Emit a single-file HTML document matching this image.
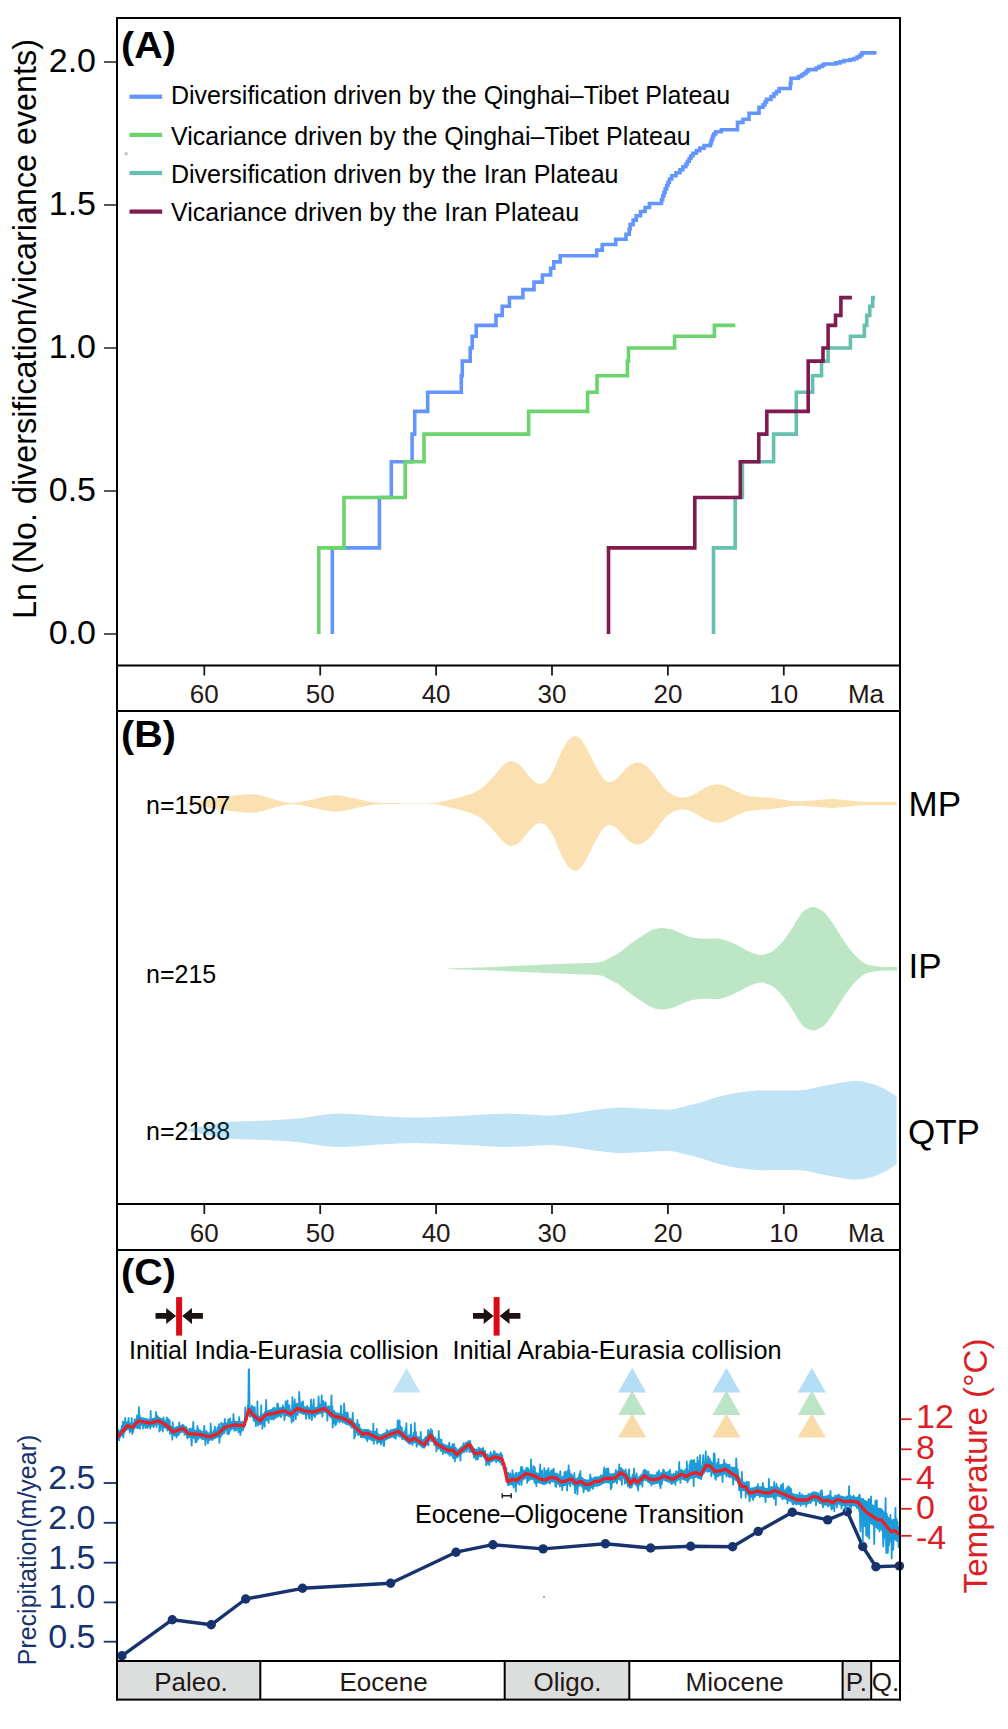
<!DOCTYPE html><html><head><meta charset="utf-8"><style>html,body{margin:0;padding:0;background:#fff;}svg{display:block}text{font-family:"Liberation Sans", sans-serif;}</style></head><body>
<svg width="1008" height="1729" viewBox="0 0 1008 1729">
<rect width="1008" height="1729" fill="#fff"/>
<g fill="none" stroke-width="3.6" stroke-linejoin="miter" stroke-linecap="butt">
<path d="M332.3 634.0 L332.3 634.0 L332.3 547.9 L379.4 547.9 L379.4 497.5 L391.3 497.5 L391.3 461.8 L412.1 461.8 L412.1 434.1 L414.7 434.1 L414.7 411.4 L427.7 411.4 L427.7 392.3 L461.3 392.3 L461.3 375.7 L462.3 375.7 L462.3 361.1 L470.2 361.1 L470.2 348.0 L472.2 348.0 L472.2 336.2 L476.2 336.2 L476.2 325.4 L496.0 325.4 L496.0 315.4 L502.2 315.4 L502.2 306.2 L509.4 306.2 L509.4 297.6 L522.9 297.6 L522.9 289.6 L534.0 289.6 L534.0 282.1 L542.4 282.1 L542.4 275.0 L550.6 275.0 L550.6 268.3 L553.8 268.3 L553.8 261.9 L560.2 261.9 L560.2 255.8 L596.7 255.8 L596.7 250.1 L602.2 250.1 L602.2 244.5 L615.7 244.5 L615.7 239.3 L626.0 239.3 L626.0 234.2 L629.2 234.2 L629.2 229.3 L630.1 229.3 L630.1 224.6 L633.1 224.6 L633.1 220.1 L636.2 220.1 L636.2 215.8 L640.5 215.8 L640.5 211.5 L645.1 211.5 L645.1 207.5 L649.4 207.5 L649.4 203.5 L661.5 203.5 L661.5 199.7 L662.7 199.7 L662.7 196.0 L663.9 196.0 L663.9 192.4 L665.2 192.4 L665.2 188.9 L666.6 188.9 L666.6 185.5 L668.0 185.5 L668.0 182.2 L669.4 182.2 L669.4 179.0 L671.7 179.0 L671.7 175.8 L676.0 175.8 L676.0 172.7 L680.0 172.7 L680.0 169.8 L682.9 169.8 L682.9 166.8 L685.9 166.8 L685.9 164.0 L687.5 164.0 L687.5 161.2 L689.2 161.2 L689.2 158.5 L690.9 158.5 L690.9 155.8 L693.0 155.8 L693.0 153.2 L696.4 153.2 L696.4 150.6 L699.8 150.6 L699.8 148.1 L704.1 148.1 L704.1 145.6 L710.4 145.6 L710.4 143.2 L711.2 143.2 L711.2 140.9 L712.0 140.9 L712.0 138.5 L712.8 138.5 L712.8 136.3 L713.7 136.3 L713.7 134.0 L715.6 134.0 L715.6 131.8 L721.3 131.8 L721.3 129.7 L737.5 129.7 L737.5 129.7 L737.5 122.4 L743.0 122.4 L743.0 119.2 L749.0 119.2 L749.0 113.3 L759.0 113.3 L759.0 107.3 L763.0 107.3 L763.0 104.9 L765.0 104.9 L765.0 102.0 L766.5 102.0 L766.5 99.4 L771.0 99.4 L771.0 96.5 L774.0 96.5 L774.0 93.8 L776.5 93.8 L776.5 91.5 L779.2 91.5 L779.2 88.5 L790.3 88.5 L790.3 83.5 L791.0 83.5 L791.0 78.3 L798.5 78.3 L798.5 76.5 L801.4 76.5 L801.4 75.0 L803.5 75.0 L803.5 73.5 L806.0 73.5 L806.0 71.5 L808.0 71.5 L808.0 69.6 L816.0 69.6 L816.0 68.0 L819.0 68.0 L819.0 66.5 L822.0 66.5 L822.0 65.2 L824.0 65.2 L824.0 64.0 L836.0 64.0 L836.0 62.9 L840.0 62.9 L840.0 61.8 L844.0 61.8 L844.0 60.5 L850.0 60.5 L850.0 59.6 L854.0 59.6 L854.0 58.5 L857.0 58.5 L857.0 57.0 L860.0 57.0 L860.0 55.0 L862.0 55.0 L862.0 52.9 L876.5 52.9" stroke="#6495ff"/>
<path d="M318.8 634.0 L318.8 634.0 L318.8 547.9 L344.0 547.9 L344.0 497.5 L405.2 497.5 L405.2 461.8 L424.0 461.8 L424.0 434.1 L528.6 434.1 L528.6 411.4 L587.6 411.4 L587.6 392.3 L597.0 392.3 L597.0 375.7 L627.4 375.7 L627.4 361.1 L628.5 361.1 L628.5 348.0 L674.6 348.0 L674.6 336.2 L714.4 336.2 L714.4 325.4 L735.3 325.4" stroke="#6cd46c"/>
<path d="M713.5 634.0 L713.5 634.0 L713.5 547.9 L735.2 547.9 L735.2 497.5 L742.4 497.5 L742.4 461.8 L773.6 461.8 L773.6 434.1 L796.3 434.1 L796.3 411.4 L796.3 411.4 L796.3 392.3 L812.6 392.3 L812.6 375.7 L821.5 375.7 L821.5 361.1 L828.1 361.1 L828.1 348.0 L850.4 348.0 L850.4 336.2 L864.4 336.2 L864.4 325.4 L866.8 325.4 L866.8 315.4 L869.8 315.4 L869.8 306.2 L872.7 306.2 L872.7 297.6 L875.1 297.6" stroke="#66c0b0"/>
<path d="M608.5 634.0 L608.5 634.0 L608.5 547.9 L694.8 547.9 L694.8 497.5 L740.3 497.5 L740.3 461.8 L758.8 461.8 L758.8 434.1 L766.8 434.1 L766.8 411.4 L808.2 411.4 L808.2 392.3 L808.2 392.3 L808.2 375.7 L808.2 375.7 L808.2 361.1 L823.0 361.1 L823.0 348.0 L828.1 348.0 L828.1 336.2 L828.1 336.2 L828.1 325.4 L835.5 325.4 L835.5 315.4 L840.9 315.4 L840.9 306.2 L840.9 306.2 L840.9 297.6 L851.9 297.6" stroke="#801b50"/>
</g>
<rect x="129.5" y="94.6" width="32.7" height="4.2" fill="#6495ff"/>
<text x="171" y="104.0" font-size="25">Diversification driven by the Qinghai–Tibet Plateau</text>
<rect x="129.5" y="132.8" width="32.7" height="4.2" fill="#6cd46c"/>
<text x="171" y="144.6" font-size="25">Vicariance driven by the Qinghai–Tibet Plateau</text>
<rect x="129.5" y="170.9" width="32.7" height="4.2" fill="#66c0b0"/>
<text x="171" y="183.2" font-size="25">Diversification driven by the Iran Plateau</text>
<rect x="129.5" y="209.5" width="32.7" height="4.2" fill="#801b50"/>
<text x="171" y="221.1" font-size="25">Vicariance driven by the Iran Plateau</text>
<circle cx="126.2" cy="153.8" r="1.7" fill="#c4c4c4"/>
<text x="121" y="57.5" font-size="37.5" font-weight="bold" textLength="54.8" lengthAdjust="spacingAndGlyphs">(A)</text>
<line x1="104" x2="117" y1="62.0" y2="62.0" stroke="#3a2a28" stroke-width="1.6"/>
<text x="96" y="72.3" font-size="34" text-anchor="end">2.0</text>
<line x1="104" x2="117" y1="205.0" y2="205.0" stroke="#3a2a28" stroke-width="1.6"/>
<text x="96" y="215.3" font-size="34" text-anchor="end">1.5</text>
<line x1="104" x2="117" y1="348.0" y2="348.0" stroke="#3a2a28" stroke-width="1.6"/>
<text x="96" y="358.3" font-size="34" text-anchor="end">1.0</text>
<line x1="104" x2="117" y1="491.0" y2="491.0" stroke="#3a2a28" stroke-width="1.6"/>
<text x="96" y="501.3" font-size="34" text-anchor="end">0.5</text>
<line x1="104" x2="117" y1="634.0" y2="634.0" stroke="#3a2a28" stroke-width="1.6"/>
<text x="96" y="644.3" font-size="34" text-anchor="end">0.0</text>
<text transform="translate(35.6,329) rotate(-90)" font-size="32.3" text-anchor="middle">Ln (No. diversification/vicariance events)</text>
<line x1="204.3" x2="204.3" y1="665.5" y2="675.5" stroke="#231815" stroke-width="1.8"/>
<text x="204.3" y="703.3" font-size="26" text-anchor="middle" fill="#231815">60</text>
<line x1="320.2" x2="320.2" y1="665.5" y2="675.5" stroke="#231815" stroke-width="1.8"/>
<text x="320.2" y="703.3" font-size="26" text-anchor="middle" fill="#231815">50</text>
<line x1="436.1" x2="436.1" y1="665.5" y2="675.5" stroke="#231815" stroke-width="1.8"/>
<text x="436.1" y="703.3" font-size="26" text-anchor="middle" fill="#231815">40</text>
<line x1="552.0" x2="552.0" y1="665.5" y2="675.5" stroke="#231815" stroke-width="1.8"/>
<text x="552.0" y="703.3" font-size="26" text-anchor="middle" fill="#231815">30</text>
<line x1="667.9" x2="667.9" y1="665.5" y2="675.5" stroke="#231815" stroke-width="1.8"/>
<text x="667.9" y="703.3" font-size="26" text-anchor="middle" fill="#231815">20</text>
<line x1="783.8" x2="783.8" y1="665.5" y2="675.5" stroke="#231815" stroke-width="1.8"/>
<text x="783.8" y="703.3" font-size="26" text-anchor="middle" fill="#231815">10</text>
<text x="866" y="703.3" font-size="26" text-anchor="middle" fill="#231815">Ma</text>
<text x="121" y="747" font-size="37.5" font-weight="bold" textLength="54.8" lengthAdjust="spacingAndGlyphs">(B)</text>
<polygon points="185.6,803.2 186.6,803.2 187.6,803.1 188.6,803.0 189.6,802.9 190.6,802.8 191.6,802.7 192.6,802.6 193.6,802.5 194.6,802.4 195.6,802.2 196.6,802.1 197.6,801.9 198.6,801.7 199.6,801.5 200.6,801.3 201.6,801.0 202.6,800.8 203.6,800.6 204.6,800.4 205.6,800.2 206.6,799.9 207.6,799.7 208.6,799.5 209.6,799.2 210.6,799.0 211.6,798.8 212.6,798.5 213.6,798.3 214.6,798.1 215.6,798.0 216.6,797.8 217.6,797.7 218.6,797.6 219.6,797.5 220.6,797.4 221.6,797.3 222.6,797.2 223.6,797.1 224.6,796.9 225.6,796.8 226.6,796.7 227.6,796.6 228.6,796.4 229.6,796.3 230.6,796.1 231.6,796.0 232.6,795.9 233.6,795.7 234.6,795.6 235.6,795.4 236.6,795.3 237.6,795.2 238.6,795.1 239.6,795.0 240.6,794.9 241.6,794.8 242.6,794.7 243.6,794.6 244.6,794.5 245.6,794.5 246.6,794.4 247.6,794.3 248.6,794.3 249.6,794.3 250.6,794.3 251.6,794.3 252.6,794.3 253.6,794.3 254.6,794.4 255.6,794.5 256.6,794.6 257.6,794.8 258.6,795.0 259.6,795.2 260.6,795.4 261.6,795.7 262.6,795.9 263.6,796.2 264.6,796.5 265.6,796.8 266.6,797.0 267.6,797.3 268.6,797.6 269.6,797.9 270.6,798.2 271.6,798.5 272.6,798.8 273.6,799.1 274.6,799.5 275.6,799.8 276.6,800.1 277.6,800.4 278.6,800.6 279.6,800.8 280.6,801.1 281.6,801.3 282.6,801.6 283.6,801.8 284.6,802.0 285.6,802.2 286.6,802.4 287.6,802.6 288.6,802.7 289.6,802.8 290.6,802.9 291.6,802.9 292.6,802.9 293.6,802.8 294.6,802.8 295.6,802.7 296.6,802.5 297.6,802.4 298.6,802.3 299.6,802.1 300.6,801.9 301.6,801.7 302.6,801.5 303.6,801.3 304.6,801.1 305.6,800.9 306.6,800.7 307.6,800.4 308.6,800.2 309.6,800.0 310.6,799.8 311.6,799.6 312.6,799.4 313.6,799.2 314.6,798.9 315.6,798.7 316.6,798.4 317.6,798.2 318.6,798.0 319.6,797.7 320.6,797.5 321.6,797.3 322.6,797.1 323.6,796.9 324.6,796.7 325.6,796.5 326.6,796.3 327.6,796.2 328.6,796.1 329.6,795.9 330.6,795.8 331.6,795.7 332.6,795.6 333.6,795.5 334.6,795.5 335.6,795.5 336.6,795.4 337.6,795.5 338.6,795.5 339.6,795.6 340.6,795.7 341.6,795.8 342.6,796.0 343.6,796.1 344.6,796.3 345.6,796.5 346.6,796.7 347.6,797.0 348.6,797.2 349.6,797.4 350.6,797.7 351.6,797.9 352.6,798.1 353.6,798.4 354.6,798.6 355.6,798.8 356.6,799.0 357.6,799.2 358.6,799.4 359.6,799.7 360.6,799.9 361.6,800.1 362.6,800.4 363.6,800.6 364.6,800.8 365.6,801.1 366.6,801.3 367.6,801.5 368.6,801.7 369.6,801.8 370.6,802.0 371.6,802.1 372.6,802.2 373.6,802.3 374.6,802.4 375.6,802.5 376.6,802.5 377.6,802.6 378.6,802.6 379.6,802.7 380.6,802.7 381.6,802.8 382.6,802.8 383.6,802.9 384.6,802.9 385.6,802.9 386.6,803.0 387.6,803.0 388.6,803.0 389.6,803.0 390.6,803.1 391.6,803.1 392.6,803.1 393.6,803.1 394.6,803.1 395.6,803.1 396.6,803.1 397.6,803.1 398.6,803.1 399.6,803.1 400.6,803.2 401.6,803.2 402.6,803.2 403.6,803.2 404.6,803.2 405.6,803.2 406.6,803.2 407.6,803.2 408.6,803.2 409.6,803.2 410.6,803.2 411.6,803.2 412.6,803.2 413.6,803.2 414.6,803.2 415.6,803.2 416.6,803.2 417.6,803.2 418.6,803.2 419.6,803.2 420.6,803.2 421.6,803.2 422.6,803.2 423.6,803.2 424.6,803.2 425.6,803.2 426.6,803.2 427.6,803.2 428.6,803.2 429.6,803.1 430.6,803.1 431.6,803.1 432.6,803.1 433.6,803.0 434.6,802.9 435.6,802.8 436.6,802.7 437.6,802.5 438.6,802.3 439.6,802.2 440.6,802.0 441.6,801.8 442.6,801.5 443.6,801.3 444.6,801.0 445.6,800.7 446.6,800.5 447.6,800.2 448.6,799.9 449.6,799.6 450.6,799.4 451.6,799.2 452.6,798.9 453.6,798.7 454.6,798.5 455.6,798.2 456.6,798.0 457.6,797.8 458.6,797.5 459.6,797.3 460.6,797.0 461.6,796.7 462.6,796.4 463.6,796.1 464.6,795.8 465.6,795.5 466.6,795.2 467.6,794.9 468.6,794.6 469.6,794.2 470.6,793.9 471.6,793.5 472.6,793.1 473.6,792.6 474.6,792.2 475.6,791.8 476.6,791.3 477.6,790.8 478.6,790.3 479.6,789.7 480.6,789.0 481.6,788.3 482.6,787.5 483.6,786.6 484.6,785.7 485.6,784.8 486.6,783.8 487.6,782.8 488.6,781.7 489.6,780.7 490.6,779.6 491.6,778.6 492.6,777.4 493.6,776.3 494.6,775.2 495.6,774.0 496.6,772.8 497.6,771.5 498.6,770.3 499.6,769.2 500.6,768.1 501.6,767.0 502.6,766.0 503.6,765.1 504.6,764.2 505.6,763.5 506.6,762.8 507.6,762.2 508.6,761.7 509.6,761.3 510.6,761.1 511.6,761.1 512.6,761.1 513.6,761.4 514.6,761.8 515.6,762.2 516.6,762.8 517.6,763.4 518.6,764.1 519.6,764.9 520.6,765.8 521.6,766.8 522.6,768.0 523.6,769.2 524.6,770.4 525.6,771.6 526.6,772.9 527.6,774.2 528.6,775.4 529.6,776.6 530.6,777.8 531.6,779.0 532.6,780.1 533.6,781.1 534.6,781.9 535.6,782.5 536.6,783.0 537.6,783.3 538.6,783.6 539.6,783.8 540.6,783.9 541.6,783.8 542.6,783.5 543.6,783.2 544.6,782.7 545.6,782.1 546.6,781.1 547.6,779.8 548.6,778.4 549.6,776.9 550.6,775.4 551.6,773.7 552.6,771.9 553.6,769.9 554.6,767.9 555.6,765.7 556.6,763.3 557.6,760.8 558.6,758.3 559.6,756.0 560.6,753.8 561.6,751.7 562.6,749.6 563.6,747.7 564.6,745.9 565.6,744.2 566.6,742.6 567.6,741.1 568.6,739.9 569.6,738.9 570.6,738.1 571.6,737.5 572.6,736.9 573.6,736.4 574.6,736.1 575.6,736.1 576.6,736.3 577.6,736.8 578.6,737.4 579.6,738.1 580.6,739.1 581.6,740.3 582.6,741.8 583.6,743.4 584.6,745.1 585.6,746.7 586.6,748.5 587.6,750.4 588.6,752.3 589.6,754.2 590.6,756.1 591.6,758.2 592.6,760.2 593.6,762.2 594.6,764.1 595.6,765.9 596.6,767.8 597.6,769.6 598.6,771.3 599.6,772.9 600.6,774.6 601.6,776.2 602.6,777.7 603.6,779.0 604.6,779.8 605.6,780.6 606.6,781.2 607.6,781.7 608.6,782.0 609.6,782.1 610.6,782.0 611.6,781.7 612.6,781.3 613.6,780.8 614.6,780.2 615.6,779.6 616.6,778.8 617.6,777.9 618.6,776.9 619.6,775.8 620.6,774.7 621.6,773.6 622.6,772.5 623.6,771.4 624.6,770.2 625.6,769.0 626.6,767.9 627.6,767.0 628.6,766.3 629.6,765.6 630.6,764.9 631.6,764.3 632.6,763.8 633.6,763.3 634.6,762.9 635.6,762.6 636.6,762.5 637.6,762.4 638.6,762.5 639.6,762.7 640.6,763.0 641.6,763.4 642.6,763.8 643.6,764.4 644.6,764.9 645.6,765.5 646.6,766.2 647.6,767.1 648.6,768.0 649.6,769.1 650.6,770.2 651.6,771.4 652.6,772.6 653.6,773.8 654.6,775.2 655.6,776.6 656.6,777.9 657.6,779.3 658.6,780.7 659.6,782.2 660.6,783.6 661.6,785.1 662.6,786.4 663.6,787.6 664.6,788.7 665.6,789.7 666.6,790.7 667.6,791.6 668.6,792.4 669.6,793.1 670.6,793.7 671.6,794.3 672.6,794.9 673.6,795.4 674.6,795.9 675.6,796.2 676.6,796.6 677.6,796.9 678.6,797.2 679.6,797.5 680.6,797.6 681.6,797.7 682.6,797.7 683.6,797.6 684.6,797.5 685.6,797.3 686.6,797.1 687.6,796.9 688.6,796.6 689.6,796.3 690.6,795.9 691.6,795.5 692.6,795.1 693.6,794.7 694.6,794.1 695.6,793.5 696.6,792.9 697.6,792.3 698.6,791.6 699.6,791.0 700.6,790.4 701.6,789.7 702.6,789.1 703.6,788.5 704.6,787.9 705.6,787.4 706.6,786.9 707.6,786.5 708.6,786.0 709.6,785.7 710.6,785.4 711.6,785.1 712.6,784.9 713.6,784.7 714.6,784.5 715.6,784.4 716.6,784.3 717.6,784.3 718.6,784.4 719.6,784.5 720.6,784.6 721.6,784.8 722.6,785.1 723.6,785.3 724.6,785.7 725.6,786.1 726.6,786.5 727.6,787.0 728.6,787.5 729.6,788.0 730.6,788.5 731.6,789.0 732.6,789.4 733.6,789.9 734.6,790.4 735.6,790.9 736.6,791.4 737.6,791.9 738.6,792.3 739.6,792.8 740.6,793.3 741.6,793.7 742.6,794.2 743.6,794.6 744.6,795.0 745.6,795.3 746.6,795.6 747.6,795.8 748.6,795.9 749.6,796.1 750.6,796.2 751.6,796.4 752.6,796.5 753.6,796.6 754.6,796.7 755.6,796.8 756.6,796.9 757.6,797.0 758.6,797.0 759.6,797.1 760.6,797.2 761.6,797.3 762.6,797.3 763.6,797.4 764.6,797.5 765.6,797.5 766.6,797.6 767.6,797.7 768.6,797.7 769.6,797.8 770.6,797.9 771.6,798.0 772.6,798.1 773.6,798.2 774.6,798.3 775.6,798.5 776.6,798.6 777.6,798.8 778.6,798.9 779.6,799.1 780.6,799.3 781.6,799.4 782.6,799.6 783.6,799.8 784.6,800.0 785.6,800.1 786.6,800.3 787.6,800.4 788.6,800.6 789.6,800.7 790.6,800.8 791.6,800.9 792.6,801.0 793.6,801.1 794.6,801.2 795.6,801.2 796.6,801.3 797.6,801.3 798.6,801.3 799.6,801.3 800.6,801.3 801.6,801.2 802.6,801.2 803.6,801.1 804.6,801.1 805.6,801.0 806.6,800.9 807.6,800.8 808.6,800.8 809.6,800.7 810.6,800.6 811.6,800.5 812.6,800.4 813.6,800.4 814.6,800.3 815.6,800.2 816.6,800.1 817.6,800.0 818.6,800.0 819.6,799.9 820.6,799.8 821.6,799.7 822.6,799.7 823.6,799.6 824.6,799.5 825.6,799.4 826.6,799.3 827.6,799.3 828.6,799.2 829.6,799.2 830.6,799.1 831.6,799.1 832.6,799.1 833.6,799.1 834.6,799.1 835.6,799.2 836.6,799.2 837.6,799.3 838.6,799.4 839.6,799.5 840.6,799.6 841.6,799.7 842.6,799.8 843.6,799.9 844.6,800.0 845.6,800.1 846.6,800.2 847.6,800.3 848.6,800.4 849.6,800.5 850.6,800.6 851.6,800.7 852.6,800.8 853.6,800.9 854.6,801.1 855.6,801.2 856.6,801.3 857.6,801.4 858.6,801.5 859.6,801.6 860.6,801.6 861.6,801.7 862.6,801.7 863.6,801.7 864.6,801.7 865.6,801.7 866.6,801.7 867.6,801.7 868.6,801.8 869.6,801.8 870.6,801.8 871.6,801.8 872.6,801.8 873.6,801.8 874.6,801.8 875.6,801.8 876.6,801.8 877.6,801.8 878.6,801.8 879.6,801.8 880.6,801.8 881.6,801.8 882.6,801.8 883.6,801.8 884.6,801.8 885.6,801.8 886.6,801.8 887.6,801.8 888.6,801.8 889.6,801.8 890.6,801.8 891.6,801.8 892.6,801.8 893.6,801.8 894.6,801.8 895.6,801.8 896.6,801.8 896.6,805.2 895.6,805.2 894.6,805.2 893.6,805.2 892.6,805.2 891.6,805.2 890.6,805.2 889.6,805.2 888.6,805.2 887.6,805.2 886.6,805.2 885.6,805.2 884.6,805.2 883.6,805.2 882.6,805.2 881.6,805.2 880.6,805.2 879.6,805.2 878.6,805.2 877.6,805.2 876.6,805.2 875.6,805.2 874.6,805.2 873.6,805.2 872.6,805.2 871.6,805.2 870.6,805.2 869.6,805.2 868.6,805.2 867.6,805.3 866.6,805.3 865.6,805.3 864.6,805.3 863.6,805.3 862.6,805.3 861.6,805.3 860.6,805.4 859.6,805.4 858.6,805.5 857.6,805.6 856.6,805.7 855.6,805.8 854.6,805.9 853.6,806.1 852.6,806.2 851.6,806.3 850.6,806.4 849.6,806.5 848.6,806.6 847.6,806.7 846.6,806.8 845.6,806.9 844.6,807.0 843.6,807.1 842.6,807.2 841.6,807.3 840.6,807.4 839.6,807.5 838.6,807.6 837.6,807.7 836.6,807.8 835.6,807.8 834.6,807.9 833.6,807.9 832.6,807.9 831.6,807.9 830.6,807.9 829.6,807.8 828.6,807.8 827.6,807.7 826.6,807.7 825.6,807.6 824.6,807.5 823.6,807.4 822.6,807.3 821.6,807.3 820.6,807.2 819.6,807.1 818.6,807.0 817.6,807.0 816.6,806.9 815.6,806.8 814.6,806.7 813.6,806.6 812.6,806.6 811.6,806.5 810.6,806.4 809.6,806.3 808.6,806.2 807.6,806.2 806.6,806.1 805.6,806.0 804.6,805.9 803.6,805.9 802.6,805.8 801.6,805.8 800.6,805.7 799.6,805.7 798.6,805.7 797.6,805.7 796.6,805.7 795.6,805.8 794.6,805.8 793.6,805.9 792.6,806.0 791.6,806.1 790.6,806.2 789.6,806.3 788.6,806.4 787.6,806.6 786.6,806.7 785.6,806.9 784.6,807.0 783.6,807.2 782.6,807.4 781.6,807.6 780.6,807.7 779.6,807.9 778.6,808.1 777.6,808.2 776.6,808.4 775.6,808.5 774.6,808.7 773.6,808.8 772.6,808.9 771.6,809.0 770.6,809.1 769.6,809.2 768.6,809.3 767.6,809.3 766.6,809.4 765.6,809.5 764.6,809.5 763.6,809.6 762.6,809.7 761.6,809.7 760.6,809.8 759.6,809.9 758.6,810.0 757.6,810.0 756.6,810.1 755.6,810.2 754.6,810.3 753.6,810.4 752.6,810.5 751.6,810.6 750.6,810.8 749.6,810.9 748.6,811.1 747.6,811.2 746.6,811.4 745.6,811.7 744.6,812.0 743.6,812.4 742.6,812.8 741.6,813.3 740.6,813.7 739.6,814.2 738.6,814.7 737.6,815.1 736.6,815.6 735.6,816.1 734.6,816.6 733.6,817.1 732.6,817.6 731.6,818.0 730.6,818.5 729.6,819.0 728.6,819.5 727.6,820.0 726.6,820.5 725.6,820.9 724.6,821.3 723.6,821.7 722.6,821.9 721.6,822.2 720.6,822.4 719.6,822.5 718.6,822.6 717.6,822.7 716.6,822.7 715.6,822.6 714.6,822.5 713.6,822.3 712.6,822.1 711.6,821.9 710.6,821.6 709.6,821.3 708.6,821.0 707.6,820.5 706.6,820.1 705.6,819.6 704.6,819.1 703.6,818.5 702.6,817.9 701.6,817.3 700.6,816.6 699.6,816.0 698.6,815.4 697.6,814.7 696.6,814.1 695.6,813.5 694.6,812.9 693.6,812.3 692.6,811.9 691.6,811.5 690.6,811.1 689.6,810.7 688.6,810.4 687.6,810.1 686.6,809.9 685.6,809.7 684.6,809.5 683.6,809.4 682.6,809.3 681.6,809.3 680.6,809.4 679.6,809.5 678.6,809.8 677.6,810.1 676.6,810.4 675.6,810.8 674.6,811.1 673.6,811.6 672.6,812.1 671.6,812.7 670.6,813.3 669.6,813.9 668.6,814.6 667.6,815.4 666.6,816.3 665.6,817.3 664.6,818.3 663.6,819.4 662.6,820.6 661.6,821.9 660.6,823.4 659.6,824.8 658.6,826.3 657.6,827.7 656.6,829.1 655.6,830.4 654.6,831.8 653.6,833.2 652.6,834.4 651.6,835.6 650.6,836.8 649.6,837.9 648.6,839.0 647.6,839.9 646.6,840.8 645.6,841.5 644.6,842.1 643.6,842.6 642.6,843.2 641.6,843.6 640.6,844.0 639.6,844.3 638.6,844.5 637.6,844.6 636.6,844.5 635.6,844.4 634.6,844.1 633.6,843.7 632.6,843.2 631.6,842.7 630.6,842.1 629.6,841.4 628.6,840.7 627.6,840.0 626.6,839.1 625.6,838.0 624.6,836.8 623.6,835.6 622.6,834.5 621.6,833.4 620.6,832.3 619.6,831.2 618.6,830.1 617.6,829.1 616.6,828.2 615.6,827.4 614.6,826.8 613.6,826.2 612.6,825.7 611.6,825.3 610.6,825.0 609.6,824.9 608.6,825.0 607.6,825.3 606.6,825.8 605.6,826.4 604.6,827.2 603.6,828.0 602.6,829.3 601.6,830.8 600.6,832.4 599.6,834.1 598.6,835.7 597.6,837.4 596.6,839.2 595.6,841.1 594.6,842.9 593.6,844.8 592.6,846.8 591.6,848.8 590.6,850.9 589.6,852.8 588.6,854.7 587.6,856.6 586.6,858.5 585.6,860.3 584.6,861.9 583.6,863.6 582.6,865.2 581.6,866.7 580.6,867.9 579.6,868.9 578.6,869.6 577.6,870.2 576.6,870.7 575.6,870.9 574.6,870.9 573.6,870.6 572.6,870.1 571.6,869.5 570.6,868.9 569.6,868.1 568.6,867.1 567.6,865.9 566.6,864.4 565.6,862.8 564.6,861.1 563.6,859.3 562.6,857.4 561.6,855.3 560.6,853.2 559.6,851.0 558.6,848.7 557.6,846.2 556.6,843.7 555.6,841.3 554.6,839.1 553.6,837.1 552.6,835.1 551.6,833.3 550.6,831.6 549.6,830.1 548.6,828.6 547.6,827.2 546.6,825.9 545.6,824.9 544.6,824.3 543.6,823.8 542.6,823.5 541.6,823.2 540.6,823.1 539.6,823.2 538.6,823.4 537.6,823.7 536.6,824.0 535.6,824.5 534.6,825.1 533.6,825.9 532.6,826.9 531.6,828.0 530.6,829.2 529.6,830.4 528.6,831.6 527.6,832.8 526.6,834.1 525.6,835.4 524.6,836.6 523.6,837.8 522.6,839.0 521.6,840.2 520.6,841.2 519.6,842.1 518.6,842.9 517.6,843.6 516.6,844.2 515.6,844.8 514.6,845.2 513.6,845.6 512.6,845.9 511.6,845.9 510.6,845.9 509.6,845.7 508.6,845.3 507.6,844.8 506.6,844.2 505.6,843.5 504.6,842.8 503.6,841.9 502.6,841.0 501.6,840.0 500.6,838.9 499.6,837.8 498.6,836.7 497.6,835.5 496.6,834.2 495.6,833.0 494.6,831.8 493.6,830.7 492.6,829.6 491.6,828.4 490.6,827.4 489.6,826.3 488.6,825.3 487.6,824.2 486.6,823.2 485.6,822.2 484.6,821.3 483.6,820.4 482.6,819.5 481.6,818.7 480.6,818.0 479.6,817.3 478.6,816.7 477.6,816.2 476.6,815.7 475.6,815.2 474.6,814.8 473.6,814.4 472.6,813.9 471.6,813.5 470.6,813.1 469.6,812.8 468.6,812.4 467.6,812.1 466.6,811.8 465.6,811.5 464.6,811.2 463.6,810.9 462.6,810.6 461.6,810.3 460.6,810.0 459.6,809.7 458.6,809.5 457.6,809.2 456.6,809.0 455.6,808.8 454.6,808.5 453.6,808.3 452.6,808.1 451.6,807.8 450.6,807.6 449.6,807.4 448.6,807.1 447.6,806.8 446.6,806.5 445.6,806.3 444.6,806.0 443.6,805.7 442.6,805.5 441.6,805.2 440.6,805.0 439.6,804.8 438.6,804.7 437.6,804.5 436.6,804.3 435.6,804.2 434.6,804.1 433.6,804.0 432.6,803.9 431.6,803.9 430.6,803.9 429.6,803.9 428.6,803.8 427.6,803.8 426.6,803.8 425.6,803.8 424.6,803.8 423.6,803.8 422.6,803.8 421.6,803.8 420.6,803.8 419.6,803.8 418.6,803.8 417.6,803.8 416.6,803.8 415.6,803.8 414.6,803.8 413.6,803.8 412.6,803.8 411.6,803.8 410.6,803.8 409.6,803.8 408.6,803.8 407.6,803.8 406.6,803.8 405.6,803.8 404.6,803.8 403.6,803.8 402.6,803.8 401.6,803.8 400.6,803.8 399.6,803.9 398.6,803.9 397.6,803.9 396.6,803.9 395.6,803.9 394.6,803.9 393.6,803.9 392.6,803.9 391.6,803.9 390.6,803.9 389.6,804.0 388.6,804.0 387.6,804.0 386.6,804.0 385.6,804.1 384.6,804.1 383.6,804.1 382.6,804.2 381.6,804.2 380.6,804.3 379.6,804.3 378.6,804.4 377.6,804.4 376.6,804.5 375.6,804.5 374.6,804.6 373.6,804.7 372.6,804.8 371.6,804.9 370.6,805.0 369.6,805.2 368.6,805.3 367.6,805.5 366.6,805.7 365.6,805.9 364.6,806.2 363.6,806.4 362.6,806.6 361.6,806.9 360.6,807.1 359.6,807.3 358.6,807.6 357.6,807.8 356.6,808.0 355.6,808.2 354.6,808.4 353.6,808.6 352.6,808.9 351.6,809.1 350.6,809.3 349.6,809.6 348.6,809.8 347.6,810.0 346.6,810.3 345.6,810.5 344.6,810.7 343.6,810.9 342.6,811.0 341.6,811.2 340.6,811.3 339.6,811.4 338.6,811.5 337.6,811.5 336.6,811.6 335.6,811.5 334.6,811.5 333.6,811.5 332.6,811.4 331.6,811.3 330.6,811.2 329.6,811.1 328.6,810.9 327.6,810.8 326.6,810.7 325.6,810.5 324.6,810.3 323.6,810.1 322.6,809.9 321.6,809.7 320.6,809.5 319.6,809.3 318.6,809.0 317.6,808.8 316.6,808.6 315.6,808.3 314.6,808.1 313.6,807.8 312.6,807.6 311.6,807.4 310.6,807.2 309.6,807.0 308.6,806.8 307.6,806.6 306.6,806.3 305.6,806.1 304.6,805.9 303.6,805.7 302.6,805.5 301.6,805.3 300.6,805.1 299.6,804.9 298.6,804.7 297.6,804.6 296.6,804.5 295.6,804.3 294.6,804.2 293.6,804.2 292.6,804.1 291.6,804.1 290.6,804.1 289.6,804.2 288.6,804.3 287.6,804.4 286.6,804.6 285.6,804.8 284.6,805.0 283.6,805.2 282.6,805.4 281.6,805.7 280.6,805.9 279.6,806.2 278.6,806.4 277.6,806.6 276.6,806.9 275.6,807.2 274.6,807.5 273.6,807.9 272.6,808.2 271.6,808.5 270.6,808.8 269.6,809.1 268.6,809.4 267.6,809.7 266.6,810.0 265.6,810.2 264.6,810.5 263.6,810.8 262.6,811.1 261.6,811.3 260.6,811.6 259.6,811.8 258.6,812.0 257.6,812.2 256.6,812.4 255.6,812.5 254.6,812.6 253.6,812.7 252.6,812.7 251.6,812.7 250.6,812.7 249.6,812.7 248.6,812.7 247.6,812.7 246.6,812.6 245.6,812.5 244.6,812.5 243.6,812.4 242.6,812.3 241.6,812.2 240.6,812.1 239.6,812.0 238.6,811.9 237.6,811.8 236.6,811.7 235.6,811.6 234.6,811.4 233.6,811.3 232.6,811.1 231.6,811.0 230.6,810.9 229.6,810.7 228.6,810.6 227.6,810.4 226.6,810.3 225.6,810.2 224.6,810.1 223.6,809.9 222.6,809.8 221.6,809.7 220.6,809.6 219.6,809.5 218.6,809.4 217.6,809.3 216.6,809.2 215.6,809.0 214.6,808.9 213.6,808.7 212.6,808.5 211.6,808.2 210.6,808.0 209.6,807.8 208.6,807.5 207.6,807.3 206.6,807.1 205.6,806.8 204.6,806.6 203.6,806.4 202.6,806.2 201.6,806.0 200.6,805.7 199.6,805.5 198.6,805.3 197.6,805.1 196.6,804.9 195.6,804.8 194.6,804.6 193.6,804.5 192.6,804.4 191.6,804.3 190.6,804.2 189.6,804.1 188.6,804.0 187.6,803.9 186.6,803.8 185.6,803.8" fill="#fbe0b1" fill-opacity="1.0"/>
<polygon points="447.1,968.5 448.1,968.4 449.1,968.4 450.1,968.4 451.1,968.3 452.1,968.3 453.1,968.3 454.1,968.2 455.1,968.2 456.1,968.2 457.1,968.1 458.1,968.1 459.1,968.1 460.1,968.0 461.1,968.0 462.1,968.0 463.1,968.0 464.1,967.9 465.1,967.9 466.1,967.9 467.1,967.8 468.1,967.8 469.1,967.8 470.1,967.8 471.1,967.7 472.1,967.7 473.1,967.7 474.1,967.7 475.1,967.6 476.1,967.6 477.1,967.6 478.1,967.6 479.1,967.5 480.1,967.5 481.1,967.5 482.1,967.4 483.1,967.4 484.1,967.4 485.1,967.3 486.1,967.3 487.1,967.3 488.1,967.2 489.1,967.2 490.1,967.1 491.1,967.1 492.1,967.0 493.1,967.0 494.1,966.9 495.1,966.9 496.1,966.8 497.1,966.8 498.1,966.7 499.1,966.7 500.1,966.6 501.1,966.6 502.1,966.5 503.1,966.5 504.1,966.4 505.1,966.4 506.1,966.3 507.1,966.3 508.1,966.2 509.1,966.2 510.1,966.1 511.1,966.1 512.1,966.0 513.1,966.0 514.1,965.9 515.1,965.9 516.1,965.8 517.1,965.8 518.1,965.7 519.1,965.7 520.1,965.7 521.1,965.6 522.1,965.6 523.1,965.5 524.1,965.5 525.1,965.4 526.1,965.4 527.1,965.3 528.1,965.3 529.1,965.2 530.1,965.2 531.1,965.2 532.1,965.1 533.1,965.1 534.1,965.0 535.1,965.0 536.1,964.9 537.1,964.9 538.1,964.9 539.1,964.8 540.1,964.8 541.1,964.7 542.1,964.7 543.1,964.6 544.1,964.6 545.1,964.6 546.1,964.5 547.1,964.5 548.1,964.4 549.1,964.4 550.1,964.3 551.1,964.3 552.1,964.3 553.1,964.2 554.1,964.2 555.1,964.1 556.1,964.1 557.1,964.1 558.1,964.0 559.1,964.0 560.1,963.9 561.1,963.9 562.1,963.9 563.1,963.8 564.1,963.8 565.1,963.7 566.1,963.7 567.1,963.7 568.1,963.6 569.1,963.6 570.1,963.6 571.1,963.5 572.1,963.5 573.1,963.5 574.1,963.4 575.1,963.4 576.1,963.4 577.1,963.3 578.1,963.3 579.1,963.3 580.1,963.2 581.1,963.2 582.1,963.2 583.1,963.1 584.1,963.1 585.1,963.1 586.1,963.1 587.1,963.0 588.1,963.0 589.1,962.9 590.1,962.9 591.1,962.9 592.1,962.8 593.1,962.8 594.1,962.7 595.1,962.7 596.1,962.6 597.1,962.5 598.1,962.4 599.1,962.3 600.1,962.1 601.1,961.9 602.1,961.7 603.1,961.3 604.1,960.8 605.1,960.3 606.1,959.8 607.1,959.2 608.1,958.7 609.1,958.2 610.1,957.7 611.1,957.2 612.1,956.7 613.1,956.2 614.1,955.7 615.1,955.2 616.1,954.6 617.1,954.0 618.1,953.4 619.1,952.8 620.1,952.0 621.1,951.3 622.1,950.5 623.1,949.7 624.1,948.9 625.1,948.1 626.1,947.3 627.1,946.5 628.1,945.8 629.1,945.0 630.1,944.3 631.1,943.5 632.1,942.8 633.1,942.0 634.1,941.3 635.1,940.6 636.1,939.9 637.1,939.2 638.1,938.5 639.1,937.8 640.1,937.1 641.1,936.5 642.1,935.8 643.1,935.2 644.1,934.6 645.1,933.9 646.1,933.3 647.1,932.7 648.1,932.1 649.1,931.5 650.1,930.9 651.1,930.4 652.1,930.0 653.1,929.6 654.1,929.3 655.1,929.0 656.1,928.8 657.1,928.6 658.1,928.4 659.1,928.2 660.1,928.1 661.1,928.1 662.1,928.1 663.1,928.1 664.1,928.2 665.1,928.3 666.1,928.4 667.1,928.5 668.1,928.7 669.1,928.9 670.1,929.1 671.1,929.4 672.1,929.6 673.1,930.0 674.1,930.3 675.1,930.7 676.1,931.2 677.1,931.6 678.1,932.1 679.1,932.5 680.1,932.9 681.1,933.3 682.1,933.8 683.1,934.2 684.1,934.7 685.1,935.1 686.1,935.5 687.1,935.9 688.1,936.3 689.1,936.6 690.1,936.9 691.1,937.1 692.1,937.4 693.1,937.6 694.1,937.8 695.1,938.0 696.1,938.1 697.1,938.3 698.1,938.3 699.1,938.4 700.1,938.5 701.1,938.5 702.1,938.6 703.1,938.6 704.1,938.7 705.1,938.7 706.1,938.7 707.1,938.8 708.1,938.7 709.1,938.7 710.1,938.7 711.1,938.6 712.1,938.5 713.1,938.5 714.1,938.4 715.1,938.4 716.1,938.4 717.1,938.4 718.1,938.5 719.1,938.6 720.1,938.8 721.1,939.1 722.1,939.3 723.1,939.6 724.1,939.9 725.1,940.2 726.1,940.5 727.1,940.8 728.1,941.2 729.1,941.6 730.1,942.0 731.1,942.5 732.1,942.9 733.1,943.4 734.1,943.8 735.1,944.3 736.1,944.8 737.1,945.3 738.1,945.8 739.1,946.3 740.1,946.8 741.1,947.3 742.1,947.8 743.1,948.3 744.1,948.9 745.1,949.4 746.1,949.9 747.1,950.5 748.1,951.0 749.1,951.5 750.1,951.9 751.1,952.4 752.1,952.8 753.1,953.1 754.1,953.5 755.1,953.8 756.1,954.1 757.1,954.4 758.1,954.6 759.1,954.8 760.1,954.9 761.1,955.0 762.1,954.9 763.1,954.8 764.1,954.6 765.1,954.3 766.1,954.0 767.1,953.6 768.1,953.2 769.1,952.8 770.1,952.4 771.1,952.0 772.1,951.4 773.1,950.7 774.1,949.9 775.1,949.2 776.1,948.3 777.1,947.5 778.1,946.6 779.1,945.6 780.1,944.5 781.1,943.3 782.1,942.1 783.1,940.9 784.1,939.7 785.1,938.4 786.1,937.0 787.1,935.6 788.1,934.2 789.1,932.7 790.1,931.2 791.1,929.7 792.1,928.1 793.1,926.4 794.1,924.8 795.1,923.1 796.1,921.5 797.1,920.0 798.1,918.4 799.1,916.8 800.1,915.2 801.1,913.8 802.1,912.5 803.1,911.5 804.1,910.7 805.1,910.0 806.1,909.4 807.1,908.8 808.1,908.3 809.1,907.8 810.1,907.5 811.1,907.2 812.1,907.1 813.1,907.0 814.1,907.1 815.1,907.3 816.1,907.6 817.1,907.9 818.1,908.4 819.1,908.9 820.1,909.4 821.1,910.0 822.1,910.7 823.1,911.4 824.1,912.1 825.1,913.1 826.1,914.2 827.1,915.4 828.1,916.7 829.1,918.1 830.1,919.5 831.1,920.9 832.1,922.3 833.1,923.8 834.1,925.3 835.1,926.9 836.1,928.4 837.1,930.0 838.1,931.6 839.1,933.2 840.1,934.8 841.1,936.5 842.1,938.1 843.1,939.6 844.1,941.1 845.1,942.6 846.1,944.1 847.1,945.5 848.1,946.9 849.1,948.3 850.1,949.6 851.1,950.8 852.1,952.0 853.1,953.2 854.1,954.3 855.1,955.4 856.1,956.4 857.1,957.3 858.1,958.3 859.1,959.2 860.1,960.1 861.1,960.9 862.1,961.7 863.1,962.3 864.1,962.9 865.1,963.4 866.1,963.9 867.1,964.3 868.1,964.7 869.1,965.1 870.1,965.3 871.1,965.5 872.1,965.6 873.1,965.8 874.1,965.9 875.1,966.1 876.1,966.2 877.1,966.4 878.1,966.5 879.1,966.6 880.1,966.7 881.1,966.8 882.1,966.9 883.1,966.9 884.1,967.0 885.1,967.0 886.1,967.0 887.1,967.0 888.1,967.1 889.1,967.1 890.1,967.1 891.1,967.1 892.1,967.1 893.1,967.1 894.1,967.1 895.1,967.1 896.1,967.1 897.1,967.1 897.1,970.4 896.1,970.4 895.1,970.4 894.1,970.4 893.1,970.4 892.1,970.4 891.1,970.4 890.1,970.4 889.1,970.4 888.1,970.4 887.1,970.5 886.1,970.5 885.1,970.5 884.1,970.5 883.1,970.6 882.1,970.6 881.1,970.7 880.1,970.8 879.1,970.9 878.1,971.0 877.1,971.1 876.1,971.3 875.1,971.4 874.1,971.6 873.1,971.7 872.1,971.9 871.1,972.0 870.1,972.2 869.1,972.4 868.1,972.8 867.1,973.2 866.1,973.6 865.1,974.1 864.1,974.6 863.1,975.2 862.1,975.8 861.1,976.6 860.1,977.4 859.1,978.3 858.1,979.2 857.1,980.2 856.1,981.1 855.1,982.1 854.1,983.2 853.1,984.3 852.1,985.5 851.1,986.7 850.1,987.9 849.1,989.2 848.1,990.6 847.1,992.0 846.1,993.4 845.1,994.9 844.1,996.4 843.1,997.9 842.1,999.4 841.1,1001.0 840.1,1002.7 839.1,1004.3 838.1,1005.9 837.1,1007.5 836.1,1009.1 835.1,1010.6 834.1,1012.2 833.1,1013.7 832.1,1015.2 831.1,1016.6 830.1,1018.0 829.1,1019.4 828.1,1020.8 827.1,1022.1 826.1,1023.3 825.1,1024.4 824.1,1025.4 823.1,1026.1 822.1,1026.8 821.1,1027.5 820.1,1028.1 819.1,1028.6 818.1,1029.1 817.1,1029.6 816.1,1029.9 815.1,1030.2 814.1,1030.4 813.1,1030.5 812.1,1030.4 811.1,1030.3 810.1,1030.0 809.1,1029.7 808.1,1029.2 807.1,1028.7 806.1,1028.1 805.1,1027.5 804.1,1026.8 803.1,1026.0 802.1,1025.0 801.1,1023.7 800.1,1022.3 799.1,1020.7 798.1,1019.1 797.1,1017.5 796.1,1016.0 795.1,1014.4 794.1,1012.7 793.1,1011.1 792.1,1009.4 791.1,1007.8 790.1,1006.2 789.1,1004.8 788.1,1003.3 787.1,1001.9 786.1,1000.5 785.1,999.1 784.1,997.8 783.1,996.6 782.1,995.4 781.1,994.2 780.1,993.0 779.1,991.9 778.1,990.9 777.1,990.0 776.1,989.2 775.1,988.3 774.1,987.6 773.1,986.8 772.1,986.1 771.1,985.5 770.1,985.1 769.1,984.7 768.1,984.3 767.1,983.9 766.1,983.5 765.1,983.2 764.1,982.9 763.1,982.7 762.1,982.6 761.1,982.5 760.1,982.6 759.1,982.7 758.1,982.9 757.1,983.1 756.1,983.4 755.1,983.7 754.1,984.0 753.1,984.4 752.1,984.7 751.1,985.1 750.1,985.6 749.1,986.0 748.1,986.5 747.1,987.0 746.1,987.6 745.1,988.1 744.1,988.6 743.1,989.2 742.1,989.7 741.1,990.2 740.1,990.7 739.1,991.2 738.1,991.7 737.1,992.2 736.1,992.7 735.1,993.2 734.1,993.7 733.1,994.1 732.1,994.6 731.1,995.0 730.1,995.5 729.1,995.9 728.1,996.3 727.1,996.7 726.1,997.0 725.1,997.3 724.1,997.6 723.1,997.9 722.1,998.2 721.1,998.4 720.1,998.7 719.1,998.9 718.1,999.0 717.1,999.1 716.1,999.1 715.1,999.1 714.1,999.1 713.1,999.0 712.1,999.0 711.1,998.9 710.1,998.8 709.1,998.8 708.1,998.8 707.1,998.8 706.1,998.8 705.1,998.8 704.1,998.8 703.1,998.9 702.1,998.9 701.1,999.0 700.1,999.0 699.1,999.1 698.1,999.2 697.1,999.2 696.1,999.4 695.1,999.5 694.1,999.7 693.1,999.9 692.1,1000.1 691.1,1000.4 690.1,1000.6 689.1,1000.9 688.1,1001.2 687.1,1001.6 686.1,1002.0 685.1,1002.4 684.1,1002.8 683.1,1003.3 682.1,1003.7 681.1,1004.2 680.1,1004.6 679.1,1005.0 678.1,1005.4 677.1,1005.9 676.1,1006.3 675.1,1006.8 674.1,1007.2 673.1,1007.5 672.1,1007.9 671.1,1008.1 670.1,1008.4 669.1,1008.6 668.1,1008.8 667.1,1009.0 666.1,1009.1 665.1,1009.2 664.1,1009.3 663.1,1009.4 662.1,1009.4 661.1,1009.4 660.1,1009.4 659.1,1009.3 658.1,1009.1 657.1,1008.9 656.1,1008.7 655.1,1008.5 654.1,1008.2 653.1,1007.9 652.1,1007.5 651.1,1007.1 650.1,1006.6 649.1,1006.0 648.1,1005.4 647.1,1004.8 646.1,1004.2 645.1,1003.6 644.1,1002.9 643.1,1002.3 642.1,1001.7 641.1,1001.0 640.1,1000.4 639.1,999.7 638.1,999.0 637.1,998.3 636.1,997.6 635.1,996.9 634.1,996.2 633.1,995.5 632.1,994.7 631.1,994.0 630.1,993.2 629.1,992.5 628.1,991.7 627.1,991.0 626.1,990.2 625.1,989.4 624.1,988.6 623.1,987.8 622.1,987.0 621.1,986.2 620.1,985.5 619.1,984.7 618.1,984.1 617.1,983.5 616.1,982.9 615.1,982.3 614.1,981.8 613.1,981.3 612.1,980.8 611.1,980.3 610.1,979.8 609.1,979.3 608.1,978.8 607.1,978.3 606.1,977.7 605.1,977.2 604.1,976.7 603.1,976.2 602.1,975.8 601.1,975.6 600.1,975.4 599.1,975.2 598.1,975.1 597.1,975.0 596.1,974.9 595.1,974.8 594.1,974.8 593.1,974.7 592.1,974.7 591.1,974.6 590.1,974.6 589.1,974.6 588.1,974.5 587.1,974.5 586.1,974.4 585.1,974.4 584.1,974.4 583.1,974.4 582.1,974.3 581.1,974.3 580.1,974.3 579.1,974.2 578.1,974.2 577.1,974.2 576.1,974.1 575.1,974.1 574.1,974.1 573.1,974.0 572.1,974.0 571.1,974.0 570.1,973.9 569.1,973.9 568.1,973.9 567.1,973.8 566.1,973.8 565.1,973.8 564.1,973.7 563.1,973.7 562.1,973.6 561.1,973.6 560.1,973.6 559.1,973.5 558.1,973.5 557.1,973.4 556.1,973.4 555.1,973.4 554.1,973.3 553.1,973.3 552.1,973.2 551.1,973.2 550.1,973.2 549.1,973.1 548.1,973.1 547.1,973.0 546.1,973.0 545.1,972.9 544.1,972.9 543.1,972.9 542.1,972.8 541.1,972.8 540.1,972.7 539.1,972.7 538.1,972.6 537.1,972.6 536.1,972.6 535.1,972.5 534.1,972.5 533.1,972.4 532.1,972.4 531.1,972.3 530.1,972.3 529.1,972.3 528.1,972.2 527.1,972.2 526.1,972.1 525.1,972.1 524.1,972.0 523.1,972.0 522.1,971.9 521.1,971.9 520.1,971.8 519.1,971.8 518.1,971.8 517.1,971.7 516.1,971.7 515.1,971.6 514.1,971.6 513.1,971.5 512.1,971.5 511.1,971.4 510.1,971.4 509.1,971.3 508.1,971.3 507.1,971.2 506.1,971.2 505.1,971.1 504.1,971.1 503.1,971.0 502.1,971.0 501.1,970.9 500.1,970.9 499.1,970.8 498.1,970.8 497.1,970.7 496.1,970.7 495.1,970.6 494.1,970.6 493.1,970.5 492.1,970.5 491.1,970.4 490.1,970.4 489.1,970.3 488.1,970.3 487.1,970.2 486.1,970.2 485.1,970.2 484.1,970.1 483.1,970.1 482.1,970.1 481.1,970.0 480.1,970.0 479.1,970.0 478.1,969.9 477.1,969.9 476.1,969.9 475.1,969.9 474.1,969.8 473.1,969.8 472.1,969.8 471.1,969.8 470.1,969.7 469.1,969.7 468.1,969.7 467.1,969.7 466.1,969.6 465.1,969.6 464.1,969.6 463.1,969.5 462.1,969.5 461.1,969.5 460.1,969.5 459.1,969.4 458.1,969.4 457.1,969.4 456.1,969.3 455.1,969.3 454.1,969.3 453.1,969.2 452.1,969.2 451.1,969.2 450.1,969.1 449.1,969.1 448.1,969.1 447.1,969.0" fill="#bde6c5" fill-opacity="1.0"/>
<text x="146" y="814" font-size="25">n=1507</text>
<text x="146" y="983" font-size="25">n=215</text>
<text x="146" y="1140.2" font-size="25">n=2188</text>
<polygon points="183.6,1130.0 184.6,1129.8 185.6,1129.6 186.6,1129.4 187.6,1129.2 188.6,1129.0 189.6,1128.8 190.6,1128.6 191.6,1128.4 192.6,1128.3 193.6,1128.1 194.6,1127.9 195.6,1127.7 196.6,1127.5 197.6,1127.3 198.6,1127.1 199.6,1127.0 200.6,1126.8 201.6,1126.6 202.6,1126.4 203.6,1126.2 204.6,1126.1 205.6,1125.9 206.6,1125.7 207.6,1125.5 208.6,1125.3 209.6,1125.2 210.6,1125.0 211.6,1124.8 212.6,1124.6 213.6,1124.4 214.6,1124.2 215.6,1124.0 216.6,1123.8 217.6,1123.6 218.6,1123.4 219.6,1123.2 220.6,1123.0 221.6,1122.9 222.6,1122.7 223.6,1122.5 224.6,1122.4 225.6,1122.2 226.6,1122.1 227.6,1122.0 228.6,1121.9 229.6,1121.9 230.6,1121.8 231.6,1121.7 232.6,1121.7 233.6,1121.6 234.6,1121.6 235.6,1121.6 236.6,1121.5 237.6,1121.5 238.6,1121.4 239.6,1121.4 240.6,1121.4 241.6,1121.3 242.6,1121.3 243.6,1121.3 244.6,1121.2 245.6,1121.2 246.6,1121.2 247.6,1121.2 248.6,1121.1 249.6,1121.1 250.6,1121.1 251.6,1121.0 252.6,1121.0 253.6,1121.0 254.6,1120.9 255.6,1120.9 256.6,1120.9 257.6,1120.8 258.6,1120.8 259.6,1120.8 260.6,1120.7 261.6,1120.7 262.6,1120.7 263.6,1120.6 264.6,1120.6 265.6,1120.6 266.6,1120.5 267.6,1120.5 268.6,1120.4 269.6,1120.4 270.6,1120.3 271.6,1120.3 272.6,1120.2 273.6,1120.2 274.6,1120.1 275.6,1120.1 276.6,1120.0 277.6,1119.9 278.6,1119.9 279.6,1119.8 280.6,1119.8 281.6,1119.7 282.6,1119.6 283.6,1119.6 284.6,1119.5 285.6,1119.4 286.6,1119.4 287.6,1119.3 288.6,1119.2 289.6,1119.2 290.6,1119.1 291.6,1119.0 292.6,1118.9 293.6,1118.9 294.6,1118.8 295.6,1118.7 296.6,1118.6 297.6,1118.5 298.6,1118.4 299.6,1118.3 300.6,1118.2 301.6,1118.1 302.6,1117.9 303.6,1117.8 304.6,1117.6 305.6,1117.5 306.6,1117.4 307.6,1117.2 308.6,1117.0 309.6,1116.9 310.6,1116.7 311.6,1116.6 312.6,1116.4 313.6,1116.3 314.6,1116.1 315.6,1115.9 316.6,1115.8 317.6,1115.6 318.6,1115.5 319.6,1115.3 320.6,1115.2 321.6,1115.0 322.6,1114.9 323.6,1114.8 324.6,1114.6 325.6,1114.5 326.6,1114.4 327.6,1114.3 328.6,1114.2 329.6,1114.1 330.6,1114.0 331.6,1113.9 332.6,1113.8 333.6,1113.8 334.6,1113.7 335.6,1113.7 336.6,1113.6 337.6,1113.6 338.6,1113.6 339.6,1113.6 340.6,1113.6 341.6,1113.6 342.6,1113.6 343.6,1113.7 344.6,1113.7 345.6,1113.7 346.6,1113.8 347.6,1113.8 348.6,1113.9 349.6,1113.9 350.6,1114.0 351.6,1114.0 352.6,1114.1 353.6,1114.1 354.6,1114.2 355.6,1114.3 356.6,1114.3 357.6,1114.4 358.6,1114.5 359.6,1114.6 360.6,1114.6 361.6,1114.7 362.6,1114.8 363.6,1114.9 364.6,1115.0 365.6,1115.0 366.6,1115.1 367.6,1115.2 368.6,1115.3 369.6,1115.4 370.6,1115.4 371.6,1115.5 372.6,1115.6 373.6,1115.7 374.6,1115.7 375.6,1115.8 376.6,1115.9 377.6,1116.0 378.6,1116.0 379.6,1116.1 380.6,1116.1 381.6,1116.2 382.6,1116.2 383.6,1116.3 384.6,1116.3 385.6,1116.4 386.6,1116.4 387.6,1116.5 388.6,1116.5 389.6,1116.6 390.6,1116.6 391.6,1116.7 392.6,1116.8 393.6,1116.8 394.6,1116.9 395.6,1116.9 396.6,1117.0 397.6,1117.0 398.6,1117.1 399.6,1117.1 400.6,1117.2 401.6,1117.2 402.6,1117.2 403.6,1117.3 404.6,1117.3 405.6,1117.4 406.6,1117.4 407.6,1117.4 408.6,1117.4 409.6,1117.5 410.6,1117.5 411.6,1117.5 412.6,1117.5 413.6,1117.5 414.6,1117.5 415.6,1117.5 416.6,1117.5 417.6,1117.5 418.6,1117.5 419.6,1117.5 420.6,1117.4 421.6,1117.4 422.6,1117.4 423.6,1117.4 424.6,1117.4 425.6,1117.3 426.6,1117.3 427.6,1117.3 428.6,1117.2 429.6,1117.2 430.6,1117.2 431.6,1117.1 432.6,1117.1 433.6,1117.1 434.6,1117.0 435.6,1117.0 436.6,1117.0 437.6,1116.9 438.6,1116.9 439.6,1116.8 440.6,1116.8 441.6,1116.7 442.6,1116.7 443.6,1116.7 444.6,1116.6 445.6,1116.6 446.6,1116.5 447.6,1116.5 448.6,1116.4 449.6,1116.4 450.6,1116.3 451.6,1116.3 452.6,1116.2 453.6,1116.2 454.6,1116.2 455.6,1116.1 456.6,1116.1 457.6,1116.0 458.6,1116.0 459.6,1115.9 460.6,1115.9 461.6,1115.8 462.6,1115.8 463.6,1115.7 464.6,1115.7 465.6,1115.6 466.6,1115.6 467.6,1115.5 468.6,1115.5 469.6,1115.4 470.6,1115.3 471.6,1115.3 472.6,1115.2 473.6,1115.1 474.6,1115.1 475.6,1115.0 476.6,1115.0 477.6,1114.9 478.6,1114.8 479.6,1114.8 480.6,1114.7 481.6,1114.6 482.6,1114.6 483.6,1114.5 484.6,1114.5 485.6,1114.4 486.6,1114.4 487.6,1114.3 488.6,1114.2 489.6,1114.2 490.6,1114.1 491.6,1114.1 492.6,1114.0 493.6,1114.0 494.6,1114.0 495.6,1113.9 496.6,1113.9 497.6,1113.8 498.6,1113.8 499.6,1113.8 500.6,1113.7 501.6,1113.7 502.6,1113.7 503.6,1113.7 504.6,1113.7 505.6,1113.7 506.6,1113.7 507.6,1113.7 508.6,1113.7 509.6,1113.7 510.6,1113.7 511.6,1113.8 512.6,1113.8 513.6,1113.8 514.6,1113.8 515.6,1113.9 516.6,1113.9 517.6,1113.9 518.6,1114.0 519.6,1114.0 520.6,1114.0 521.6,1114.1 522.6,1114.1 523.6,1114.2 524.6,1114.2 525.6,1114.3 526.6,1114.3 527.6,1114.4 528.6,1114.4 529.6,1114.5 530.6,1114.6 531.6,1114.6 532.6,1114.7 533.6,1114.8 534.6,1114.8 535.6,1114.9 536.6,1115.0 537.6,1115.0 538.6,1115.1 539.6,1115.2 540.6,1115.2 541.6,1115.3 542.6,1115.3 543.6,1115.4 544.6,1115.4 545.6,1115.4 546.6,1115.5 547.6,1115.5 548.6,1115.5 549.6,1115.5 550.6,1115.5 551.6,1115.5 552.6,1115.4 553.6,1115.4 554.6,1115.3 555.6,1115.3 556.6,1115.2 557.6,1115.1 558.6,1115.0 559.6,1114.9 560.6,1114.8 561.6,1114.7 562.6,1114.6 563.6,1114.5 564.6,1114.4 565.6,1114.3 566.6,1114.2 567.6,1114.0 568.6,1113.9 569.6,1113.8 570.6,1113.7 571.6,1113.6 572.6,1113.4 573.6,1113.3 574.6,1113.2 575.6,1113.1 576.6,1112.9 577.6,1112.8 578.6,1112.6 579.6,1112.4 580.6,1112.3 581.6,1112.1 582.6,1111.9 583.6,1111.8 584.6,1111.6 585.6,1111.4 586.6,1111.3 587.6,1111.1 588.6,1110.9 589.6,1110.8 590.6,1110.6 591.6,1110.5 592.6,1110.3 593.6,1110.2 594.6,1110.1 595.6,1110.0 596.6,1109.9 597.6,1109.7 598.6,1109.6 599.6,1109.5 600.6,1109.3 601.6,1109.2 602.6,1109.1 603.6,1109.0 604.6,1108.8 605.6,1108.7 606.6,1108.6 607.6,1108.5 608.6,1108.4 609.6,1108.3 610.6,1108.2 611.6,1108.1 612.6,1108.0 613.6,1107.9 614.6,1107.8 615.6,1107.8 616.6,1107.7 617.6,1107.7 618.6,1107.6 619.6,1107.6 620.6,1107.6 621.6,1107.6 622.6,1107.6 623.6,1107.6 624.6,1107.6 625.6,1107.7 626.6,1107.7 627.6,1107.7 628.6,1107.8 629.6,1107.8 630.6,1107.9 631.6,1107.9 632.6,1108.0 633.6,1108.0 634.6,1108.1 635.6,1108.1 636.6,1108.2 637.6,1108.3 638.6,1108.3 639.6,1108.4 640.6,1108.4 641.6,1108.5 642.6,1108.5 643.6,1108.6 644.6,1108.6 645.6,1108.7 646.6,1108.7 647.6,1108.8 648.6,1108.8 649.6,1108.9 650.6,1109.0 651.6,1109.0 652.6,1109.1 653.6,1109.1 654.6,1109.2 655.6,1109.3 656.6,1109.3 657.6,1109.4 658.6,1109.4 659.6,1109.5 660.6,1109.5 661.6,1109.6 662.6,1109.6 663.6,1109.6 664.6,1109.7 665.6,1109.7 666.6,1109.7 667.6,1109.7 668.6,1109.7 669.6,1109.6 670.6,1109.5 671.6,1109.4 672.6,1109.2 673.6,1109.1 674.6,1108.9 675.6,1108.7 676.6,1108.5 677.6,1108.2 678.6,1108.0 679.6,1107.8 680.6,1107.5 681.6,1107.2 682.6,1107.0 683.6,1106.7 684.6,1106.5 685.6,1106.2 686.6,1106.0 687.6,1105.8 688.6,1105.6 689.6,1105.3 690.6,1105.1 691.6,1104.8 692.6,1104.6 693.6,1104.3 694.6,1104.1 695.6,1103.8 696.6,1103.5 697.6,1103.3 698.6,1103.0 699.6,1102.7 700.6,1102.4 701.6,1102.1 702.6,1101.8 703.6,1101.5 704.6,1101.2 705.6,1100.9 706.6,1100.5 707.6,1100.2 708.6,1099.9 709.6,1099.5 710.6,1099.2 711.6,1098.9 712.6,1098.5 713.6,1098.2 714.6,1097.9 715.6,1097.6 716.6,1097.3 717.6,1097.0 718.6,1096.7 719.6,1096.5 720.6,1096.2 721.6,1096.0 722.6,1095.7 723.6,1095.5 724.6,1095.3 725.6,1095.0 726.6,1094.8 727.6,1094.6 728.6,1094.4 729.6,1094.2 730.6,1094.0 731.6,1093.8 732.6,1093.6 733.6,1093.4 734.6,1093.2 735.6,1093.0 736.6,1092.9 737.6,1092.7 738.6,1092.6 739.6,1092.4 740.6,1092.3 741.6,1092.2 742.6,1092.1 743.6,1091.9 744.6,1091.8 745.6,1091.7 746.6,1091.6 747.6,1091.4 748.6,1091.3 749.6,1091.2 750.6,1091.1 751.6,1091.0 752.6,1090.9 753.6,1090.8 754.6,1090.7 755.6,1090.6 756.6,1090.5 757.6,1090.5 758.6,1090.4 759.6,1090.4 760.6,1090.4 761.6,1090.4 762.6,1090.4 763.6,1090.4 764.6,1090.4 765.6,1090.4 766.6,1090.4 767.6,1090.4 768.6,1090.5 769.6,1090.5 770.6,1090.5 771.6,1090.5 772.6,1090.5 773.6,1090.5 774.6,1090.5 775.6,1090.6 776.6,1090.6 777.6,1090.6 778.6,1090.6 779.6,1090.6 780.6,1090.6 781.6,1090.6 782.6,1090.6 783.6,1090.6 784.6,1090.6 785.6,1090.6 786.6,1090.6 787.6,1090.6 788.6,1090.6 789.6,1090.5 790.6,1090.5 791.6,1090.5 792.6,1090.5 793.6,1090.5 794.6,1090.4 795.6,1090.4 796.6,1090.4 797.6,1090.4 798.6,1090.3 799.6,1090.3 800.6,1090.2 801.6,1090.2 802.6,1090.1 803.6,1090.1 804.6,1089.9 805.6,1089.8 806.6,1089.7 807.6,1089.5 808.6,1089.3 809.6,1089.1 810.6,1088.9 811.6,1088.6 812.6,1088.4 813.6,1088.1 814.6,1087.9 815.6,1087.6 816.6,1087.4 817.6,1087.2 818.6,1086.9 819.6,1086.7 820.6,1086.5 821.6,1086.3 822.6,1086.1 823.6,1085.9 824.6,1085.7 825.6,1085.5 826.6,1085.3 827.6,1085.1 828.6,1084.9 829.6,1084.8 830.6,1084.6 831.6,1084.4 832.6,1084.2 833.6,1084.0 834.6,1083.8 835.6,1083.7 836.6,1083.5 837.6,1083.3 838.6,1083.1 839.6,1083.0 840.6,1082.8 841.6,1082.6 842.6,1082.5 843.6,1082.3 844.6,1082.2 845.6,1082.0 846.6,1081.8 847.6,1081.7 848.6,1081.6 849.6,1081.4 850.6,1081.3 851.6,1081.2 852.6,1081.1 853.6,1081.1 854.6,1081.0 855.6,1081.0 856.6,1081.0 857.6,1081.0 858.6,1081.1 859.6,1081.2 860.6,1081.3 861.6,1081.4 862.6,1081.6 863.6,1081.8 864.6,1082.0 865.6,1082.2 866.6,1082.4 867.6,1082.7 868.6,1082.9 869.6,1083.2 870.6,1083.4 871.6,1083.7 872.6,1083.9 873.6,1084.2 874.6,1084.5 875.6,1084.8 876.6,1085.2 877.6,1085.6 878.6,1086.1 879.6,1086.5 880.6,1087.0 881.6,1087.5 882.6,1088.0 883.6,1088.5 884.6,1089.1 885.6,1089.6 886.6,1090.1 887.6,1090.7 888.6,1091.2 889.6,1091.8 890.6,1092.4 891.6,1093.1 892.6,1093.7 893.6,1094.4 894.6,1095.1 895.6,1095.8 896.6,1096.5 896.6,1164.1 895.6,1164.8 894.6,1165.5 893.6,1166.2 892.6,1166.9 891.6,1167.5 890.6,1168.2 889.6,1168.8 888.6,1169.4 887.6,1169.9 886.6,1170.5 885.6,1171.0 884.6,1171.5 883.6,1172.1 882.6,1172.6 881.6,1173.1 880.6,1173.6 879.6,1174.1 878.6,1174.5 877.6,1175.0 876.6,1175.4 875.6,1175.8 874.6,1176.1 873.6,1176.4 872.6,1176.7 871.6,1176.9 870.6,1177.2 869.6,1177.4 868.6,1177.7 867.6,1177.9 866.6,1178.2 865.6,1178.4 864.6,1178.6 863.6,1178.8 862.6,1179.0 861.6,1179.2 860.6,1179.3 859.6,1179.4 858.6,1179.5 857.6,1179.6 856.6,1179.6 855.6,1179.6 854.6,1179.6 853.6,1179.5 852.6,1179.5 851.6,1179.4 850.6,1179.3 849.6,1179.2 848.6,1179.0 847.6,1178.9 846.6,1178.8 845.6,1178.6 844.6,1178.4 843.6,1178.3 842.6,1178.1 841.6,1178.0 840.6,1177.8 839.6,1177.6 838.6,1177.5 837.6,1177.3 836.6,1177.1 835.6,1176.9 834.6,1176.8 833.6,1176.6 832.6,1176.4 831.6,1176.2 830.6,1176.0 829.6,1175.8 828.6,1175.7 827.6,1175.5 826.6,1175.3 825.6,1175.1 824.6,1174.9 823.6,1174.7 822.6,1174.5 821.6,1174.3 820.6,1174.1 819.6,1173.9 818.6,1173.7 817.6,1173.4 816.6,1173.2 815.6,1173.0 814.6,1172.7 813.6,1172.5 812.6,1172.2 811.6,1172.0 810.6,1171.7 809.6,1171.5 808.6,1171.3 807.6,1171.1 806.6,1170.9 805.6,1170.8 804.6,1170.7 803.6,1170.5 802.6,1170.5 801.6,1170.4 800.6,1170.4 799.6,1170.3 798.6,1170.3 797.6,1170.2 796.6,1170.2 795.6,1170.2 794.6,1170.2 793.6,1170.1 792.6,1170.1 791.6,1170.1 790.6,1170.1 789.6,1170.1 788.6,1170.0 787.6,1170.0 786.6,1170.0 785.6,1170.0 784.6,1170.0 783.6,1170.0 782.6,1170.0 781.6,1170.0 780.6,1170.0 779.6,1170.0 778.6,1170.0 777.6,1170.0 776.6,1170.0 775.6,1170.0 774.6,1170.1 773.6,1170.1 772.6,1170.1 771.6,1170.1 770.6,1170.1 769.6,1170.1 768.6,1170.1 767.6,1170.2 766.6,1170.2 765.6,1170.2 764.6,1170.2 763.6,1170.2 762.6,1170.2 761.6,1170.2 760.6,1170.2 759.6,1170.2 758.6,1170.2 757.6,1170.1 756.6,1170.1 755.6,1170.0 754.6,1169.9 753.6,1169.8 752.6,1169.7 751.6,1169.6 750.6,1169.5 749.6,1169.4 748.6,1169.3 747.6,1169.2 746.6,1169.0 745.6,1168.9 744.6,1168.8 743.6,1168.7 742.6,1168.5 741.6,1168.4 740.6,1168.3 739.6,1168.2 738.6,1168.0 737.6,1167.9 736.6,1167.7 735.6,1167.6 734.6,1167.4 733.6,1167.2 732.6,1167.0 731.6,1166.8 730.6,1166.6 729.6,1166.4 728.6,1166.2 727.6,1166.0 726.6,1165.8 725.6,1165.6 724.6,1165.3 723.6,1165.1 722.6,1164.9 721.6,1164.6 720.6,1164.4 719.6,1164.1 718.6,1163.9 717.6,1163.6 716.6,1163.3 715.6,1163.0 714.6,1162.7 713.6,1162.4 712.6,1162.1 711.6,1161.7 710.6,1161.4 709.6,1161.1 708.6,1160.7 707.6,1160.4 706.6,1160.1 705.6,1159.7 704.6,1159.4 703.6,1159.1 702.6,1158.8 701.6,1158.5 700.6,1158.2 699.6,1157.9 698.6,1157.6 697.6,1157.3 696.6,1157.1 695.6,1156.8 694.6,1156.5 693.6,1156.3 692.6,1156.0 691.6,1155.8 690.6,1155.5 689.6,1155.3 688.6,1155.0 687.6,1154.8 686.6,1154.6 685.6,1154.4 684.6,1154.1 683.6,1153.9 682.6,1153.6 681.6,1153.4 680.6,1153.1 679.6,1152.8 678.6,1152.6 677.6,1152.4 676.6,1152.1 675.6,1151.9 674.6,1151.7 673.6,1151.5 672.6,1151.4 671.6,1151.2 670.6,1151.1 669.6,1151.0 668.6,1150.9 667.6,1150.9 666.6,1150.9 665.6,1150.9 664.6,1150.9 663.6,1151.0 662.6,1151.0 661.6,1151.0 660.6,1151.1 659.6,1151.1 658.6,1151.2 657.6,1151.2 656.6,1151.3 655.6,1151.3 654.6,1151.4 653.6,1151.5 652.6,1151.5 651.6,1151.6 650.6,1151.6 649.6,1151.7 648.6,1151.8 647.6,1151.8 646.6,1151.9 645.6,1151.9 644.6,1152.0 643.6,1152.0 642.6,1152.1 641.6,1152.1 640.6,1152.2 639.6,1152.2 638.6,1152.3 637.6,1152.3 636.6,1152.4 635.6,1152.5 634.6,1152.5 633.6,1152.6 632.6,1152.6 631.6,1152.7 630.6,1152.7 629.6,1152.8 628.6,1152.8 627.6,1152.9 626.6,1152.9 625.6,1152.9 624.6,1153.0 623.6,1153.0 622.6,1153.0 621.6,1153.0 620.6,1153.0 619.6,1153.0 618.6,1153.0 617.6,1152.9 616.6,1152.9 615.6,1152.8 614.6,1152.8 613.6,1152.7 612.6,1152.6 611.6,1152.5 610.6,1152.4 609.6,1152.3 608.6,1152.2 607.6,1152.1 606.6,1152.0 605.6,1151.9 604.6,1151.8 603.6,1151.6 602.6,1151.5 601.6,1151.4 600.6,1151.3 599.6,1151.1 598.6,1151.0 597.6,1150.9 596.6,1150.7 595.6,1150.6 594.6,1150.5 593.6,1150.4 592.6,1150.3 591.6,1150.1 590.6,1150.0 589.6,1149.8 588.6,1149.7 587.6,1149.5 586.6,1149.3 585.6,1149.2 584.6,1149.0 583.6,1148.8 582.6,1148.7 581.6,1148.5 580.6,1148.3 579.6,1148.2 578.6,1148.0 577.6,1147.8 576.6,1147.7 575.6,1147.5 574.6,1147.4 573.6,1147.3 572.6,1147.2 571.6,1147.0 570.6,1146.9 569.6,1146.8 568.6,1146.7 567.6,1146.6 566.6,1146.4 565.6,1146.3 564.6,1146.2 563.6,1146.1 562.6,1146.0 561.6,1145.9 560.6,1145.8 559.6,1145.7 558.6,1145.6 557.6,1145.5 556.6,1145.4 555.6,1145.3 554.6,1145.3 553.6,1145.2 552.6,1145.2 551.6,1145.1 550.6,1145.1 549.6,1145.1 548.6,1145.1 547.6,1145.1 546.6,1145.1 545.6,1145.2 544.6,1145.2 543.6,1145.2 542.6,1145.3 541.6,1145.3 540.6,1145.4 539.6,1145.4 538.6,1145.5 537.6,1145.6 536.6,1145.6 535.6,1145.7 534.6,1145.8 533.6,1145.8 532.6,1145.9 531.6,1146.0 530.6,1146.0 529.6,1146.1 528.6,1146.2 527.6,1146.2 526.6,1146.3 525.6,1146.3 524.6,1146.4 523.6,1146.4 522.6,1146.5 521.6,1146.5 520.6,1146.6 519.6,1146.6 518.6,1146.6 517.6,1146.7 516.6,1146.7 515.6,1146.7 514.6,1146.8 513.6,1146.8 512.6,1146.8 511.6,1146.8 510.6,1146.9 509.6,1146.9 508.6,1146.9 507.6,1146.9 506.6,1146.9 505.6,1146.9 504.6,1146.9 503.6,1146.9 502.6,1146.9 501.6,1146.9 500.6,1146.9 499.6,1146.8 498.6,1146.8 497.6,1146.8 496.6,1146.7 495.6,1146.7 494.6,1146.6 493.6,1146.6 492.6,1146.6 491.6,1146.5 490.6,1146.5 489.6,1146.4 488.6,1146.4 487.6,1146.3 486.6,1146.2 485.6,1146.2 484.6,1146.1 483.6,1146.1 482.6,1146.0 481.6,1146.0 480.6,1145.9 479.6,1145.8 478.6,1145.8 477.6,1145.7 476.6,1145.6 475.6,1145.6 474.6,1145.5 473.6,1145.5 472.6,1145.4 471.6,1145.3 470.6,1145.3 469.6,1145.2 468.6,1145.1 467.6,1145.1 466.6,1145.0 465.6,1145.0 464.6,1144.9 463.6,1144.9 462.6,1144.8 461.6,1144.8 460.6,1144.7 459.6,1144.7 458.6,1144.6 457.6,1144.6 456.6,1144.5 455.6,1144.5 454.6,1144.4 453.6,1144.4 452.6,1144.4 451.6,1144.3 450.6,1144.3 449.6,1144.2 448.6,1144.2 447.6,1144.1 446.6,1144.1 445.6,1144.0 444.6,1144.0 443.6,1143.9 442.6,1143.9 441.6,1143.9 440.6,1143.8 439.6,1143.8 438.6,1143.7 437.6,1143.7 436.6,1143.6 435.6,1143.6 434.6,1143.6 433.6,1143.5 432.6,1143.5 431.6,1143.5 430.6,1143.4 429.6,1143.4 428.6,1143.4 427.6,1143.3 426.6,1143.3 425.6,1143.3 424.6,1143.2 423.6,1143.2 422.6,1143.2 421.6,1143.2 420.6,1143.2 419.6,1143.1 418.6,1143.1 417.6,1143.1 416.6,1143.1 415.6,1143.1 414.6,1143.1 413.6,1143.1 412.6,1143.1 411.6,1143.1 410.6,1143.1 409.6,1143.1 408.6,1143.2 407.6,1143.2 406.6,1143.2 405.6,1143.2 404.6,1143.3 403.6,1143.3 402.6,1143.4 401.6,1143.4 400.6,1143.4 399.6,1143.5 398.6,1143.5 397.6,1143.6 396.6,1143.6 395.6,1143.7 394.6,1143.7 393.6,1143.8 392.6,1143.8 391.6,1143.9 390.6,1144.0 389.6,1144.0 388.6,1144.1 387.6,1144.1 386.6,1144.2 385.6,1144.2 384.6,1144.3 383.6,1144.3 382.6,1144.4 381.6,1144.4 380.6,1144.5 379.6,1144.5 378.6,1144.6 377.6,1144.6 376.6,1144.7 375.6,1144.8 374.6,1144.9 373.6,1144.9 372.6,1145.0 371.6,1145.1 370.6,1145.2 369.6,1145.2 368.6,1145.3 367.6,1145.4 366.6,1145.5 365.6,1145.6 364.6,1145.6 363.6,1145.7 362.6,1145.8 361.6,1145.9 360.6,1146.0 359.6,1146.0 358.6,1146.1 357.6,1146.2 356.6,1146.3 355.6,1146.3 354.6,1146.4 353.6,1146.5 352.6,1146.5 351.6,1146.6 350.6,1146.6 349.6,1146.7 348.6,1146.7 347.6,1146.8 346.6,1146.8 345.6,1146.9 344.6,1146.9 343.6,1146.9 342.6,1147.0 341.6,1147.0 340.6,1147.0 339.6,1147.0 338.6,1147.0 337.6,1147.0 336.6,1147.0 335.6,1146.9 334.6,1146.9 333.6,1146.8 332.6,1146.8 331.6,1146.7 330.6,1146.6 329.6,1146.5 328.6,1146.4 327.6,1146.3 326.6,1146.2 325.6,1146.1 324.6,1146.0 323.6,1145.8 322.6,1145.7 321.6,1145.6 320.6,1145.4 319.6,1145.3 318.6,1145.1 317.6,1145.0 316.6,1144.8 315.6,1144.7 314.6,1144.5 313.6,1144.3 312.6,1144.2 311.6,1144.0 310.6,1143.9 309.6,1143.7 308.6,1143.6 307.6,1143.4 306.6,1143.2 305.6,1143.1 304.6,1143.0 303.6,1142.8 302.6,1142.7 301.6,1142.5 300.6,1142.4 299.6,1142.3 298.6,1142.2 297.6,1142.1 296.6,1142.0 295.6,1141.9 294.6,1141.8 293.6,1141.7 292.6,1141.7 291.6,1141.6 290.6,1141.5 289.6,1141.4 288.6,1141.4 287.6,1141.3 286.6,1141.2 285.6,1141.2 284.6,1141.1 283.6,1141.0 282.6,1141.0 281.6,1140.9 280.6,1140.8 279.6,1140.8 278.6,1140.7 277.6,1140.7 276.6,1140.6 275.6,1140.5 274.6,1140.5 273.6,1140.4 272.6,1140.4 271.6,1140.3 270.6,1140.3 269.6,1140.2 268.6,1140.2 267.6,1140.1 266.6,1140.1 265.6,1140.0 264.6,1140.0 263.6,1140.0 262.6,1139.9 261.6,1139.9 260.6,1139.9 259.6,1139.8 258.6,1139.8 257.6,1139.8 256.6,1139.7 255.6,1139.7 254.6,1139.7 253.6,1139.6 252.6,1139.6 251.6,1139.6 250.6,1139.5 249.6,1139.5 248.6,1139.5 247.6,1139.4 246.6,1139.4 245.6,1139.4 244.6,1139.4 243.6,1139.3 242.6,1139.3 241.6,1139.3 240.6,1139.2 239.6,1139.2 238.6,1139.2 237.6,1139.1 236.6,1139.1 235.6,1139.0 234.6,1139.0 233.6,1139.0 232.6,1138.9 231.6,1138.9 230.6,1138.8 229.6,1138.7 228.6,1138.7 227.6,1138.6 226.6,1138.5 225.6,1138.4 224.6,1138.2 223.6,1138.1 222.6,1137.9 221.6,1137.7 220.6,1137.6 219.6,1137.4 218.6,1137.2 217.6,1137.0 216.6,1136.8 215.6,1136.6 214.6,1136.4 213.6,1136.2 212.6,1136.0 211.6,1135.8 210.6,1135.6 209.6,1135.4 208.6,1135.3 207.6,1135.1 206.6,1134.9 205.6,1134.7 204.6,1134.5 203.6,1134.4 202.6,1134.2 201.6,1134.0 200.6,1133.8 199.6,1133.6 198.6,1133.5 197.6,1133.3 196.6,1133.1 195.6,1132.9 194.6,1132.7 193.6,1132.5 192.6,1132.3 191.6,1132.2 190.6,1132.0 189.6,1131.8 188.6,1131.6 187.6,1131.4 186.6,1131.2 185.6,1131.0 184.6,1130.8 183.6,1130.6" fill="#1697da" fill-opacity="0.27"/>
<text x="908.5" y="816.1" font-size="35">MP</text>
<text x="908.5" y="978.2" font-size="35">IP</text>
<text x="908" y="1144.2" font-size="35">QTP</text>
<line x1="204.3" x2="204.3" y1="1204" y2="1214" stroke="#231815" stroke-width="1.8"/>
<text x="204.3" y="1242" font-size="26" text-anchor="middle" fill="#231815">60</text>
<line x1="320.2" x2="320.2" y1="1204" y2="1214" stroke="#231815" stroke-width="1.8"/>
<text x="320.2" y="1242" font-size="26" text-anchor="middle" fill="#231815">50</text>
<line x1="436.1" x2="436.1" y1="1204" y2="1214" stroke="#231815" stroke-width="1.8"/>
<text x="436.1" y="1242" font-size="26" text-anchor="middle" fill="#231815">40</text>
<line x1="552.0" x2="552.0" y1="1204" y2="1214" stroke="#231815" stroke-width="1.8"/>
<text x="552.0" y="1242" font-size="26" text-anchor="middle" fill="#231815">30</text>
<line x1="667.9" x2="667.9" y1="1204" y2="1214" stroke="#231815" stroke-width="1.8"/>
<text x="667.9" y="1242" font-size="26" text-anchor="middle" fill="#231815">20</text>
<line x1="783.8" x2="783.8" y1="1204" y2="1214" stroke="#231815" stroke-width="1.8"/>
<text x="783.8" y="1242" font-size="26" text-anchor="middle" fill="#231815">10</text>
<text x="866" y="1242" font-size="26" text-anchor="middle" fill="#231815">Ma</text>
<text x="121" y="1284.7" font-size="37.5" font-weight="bold" textLength="54.8" lengthAdjust="spacingAndGlyphs">(C)</text>
<rect x="176.1" y="1297.1" width="6" height="38.5" fill="#dc0a16"/>
<path d="M155.5 1313.1 H166.2 V1307.9 L176.1 1316 L166.2 1324.1 V1318.8 H155.5 Z" fill="#1a1311"/>
<path d="M202.9 1313.1 H192.0 V1307.9 L182.1 1316 L192.0 1324.1 V1318.8 H202.9 Z" fill="#1a1311"/>
<rect x="493.6" y="1297.1" width="6" height="38.5" fill="#dc0a16"/>
<path d="M473.0 1313.1 H483.7 V1307.9 L493.6 1316 L483.7 1324.1 V1318.8 H473.0 Z" fill="#1a1311"/>
<path d="M520.4 1313.1 H509.5 V1307.9 L499.6 1316 L509.5 1324.1 V1318.8 H520.4 Z" fill="#1a1311"/>
<text x="129" y="1359.3" font-size="25.1">Initial India-Eurasia collision</text>
<text x="452.5" y="1359.3" font-size="25.3">Initial Arabia-Eurasia collision</text>
<polygon points="406.5,1367.9 420.4,1392.5 392.6,1392.5" fill="#c2e3f5"/>
<polygon points="632.2,1413.4 646.3,1437.6 618.1,1437.6" fill="#f9dcaa"/>
<polygon points="632.2,1390.4 646.2,1415.0 618.2,1415.0" fill="#bce5c5"/>
<polygon points="632.2,1367.7 646.3,1392.5 618.1,1392.5" fill="#b4def5"/>
<polygon points="726.4,1413.4 740.5,1437.6 712.3,1437.6" fill="#f9dcaa"/>
<polygon points="726.4,1390.4 740.4,1415.0 712.4,1415.0" fill="#bce5c5"/>
<polygon points="726.4,1367.7 740.5,1392.5 712.3,1392.5" fill="#b4def5"/>
<polygon points="811.8,1413.4 825.9,1437.6 797.7,1437.6" fill="#f9dcaa"/>
<polygon points="811.8,1390.4 825.8,1415.0 797.8,1415.0" fill="#bce5c5"/>
<polygon points="811.8,1367.7 825.9,1392.5 797.7,1392.5" fill="#b4def5"/>
<polyline points="121.9,1655.8 172.3,1619.7 211.2,1624.8 245.7,1599.0 302.5,1588.3 390.6,1583.2 456.0,1552.2 492.9,1544.7 543.1,1548.9 605.4,1543.8 650.6,1548.0 690.7,1546.3 732.6,1546.7 758.2,1531.4 792.3,1512.2 827.7,1519.9 847.3,1511.8 862.7,1546.5 875.9,1566.8 899.4,1565.9" fill="none" stroke="#16336f" stroke-width="3.4" stroke-linejoin="round"/>
<circle cx="121.9" cy="1655.8" r="4.7" fill="#16336f"/>
<circle cx="172.3" cy="1619.7" r="4.7" fill="#16336f"/>
<circle cx="211.2" cy="1624.8" r="4.7" fill="#16336f"/>
<circle cx="245.7" cy="1599.0" r="4.7" fill="#16336f"/>
<circle cx="302.5" cy="1588.3" r="4.7" fill="#16336f"/>
<circle cx="390.6" cy="1583.2" r="4.7" fill="#16336f"/>
<circle cx="456.0" cy="1552.2" r="4.7" fill="#16336f"/>
<circle cx="492.9" cy="1544.7" r="4.7" fill="#16336f"/>
<circle cx="543.1" cy="1548.9" r="4.7" fill="#16336f"/>
<circle cx="605.4" cy="1543.8" r="4.7" fill="#16336f"/>
<circle cx="650.6" cy="1548.0" r="4.7" fill="#16336f"/>
<circle cx="690.7" cy="1546.3" r="4.7" fill="#16336f"/>
<circle cx="732.6" cy="1546.7" r="4.7" fill="#16336f"/>
<circle cx="758.2" cy="1531.4" r="4.7" fill="#16336f"/>
<circle cx="792.3" cy="1512.2" r="4.7" fill="#16336f"/>
<circle cx="827.7" cy="1519.9" r="4.7" fill="#16336f"/>
<circle cx="847.3" cy="1511.8" r="4.7" fill="#16336f"/>
<circle cx="862.7" cy="1546.5" r="4.7" fill="#16336f"/>
<circle cx="875.9" cy="1566.8" r="4.7" fill="#16336f"/>
<circle cx="899.4" cy="1565.9" r="4.7" fill="#16336f"/>
<circle cx="544" cy="1596.7" r="1.2" fill="#aaa"/>
<polygon points="117.6,1432.6 118.6,1431.4 119.6,1430.3 120.6,1429.1 121.6,1428.0 122.6,1426.9 123.6,1425.7 124.6,1424.6 125.6,1423.4 126.6,1422.3 127.6,1421.5 128.6,1421.8 129.6,1422.2 130.6,1422.6 131.6,1422.9 132.6,1422.9 133.6,1421.8 134.6,1420.7 135.6,1419.6 136.6,1418.6 137.6,1417.5 138.6,1416.5 139.6,1416.7 140.6,1417.0 141.6,1417.2 142.6,1417.4 143.6,1417.6 144.6,1417.8 145.6,1418.0 146.6,1418.2 147.6,1418.5 148.6,1418.7 149.6,1418.9 150.6,1418.7 151.6,1418.4 152.6,1418.1 153.6,1417.8 154.6,1417.5 155.6,1417.3 156.6,1417.0 157.6,1416.7 158.6,1416.6 159.6,1417.2 160.6,1417.8 161.6,1418.3 162.6,1418.9 163.6,1419.5 164.6,1420.0 165.6,1420.6 166.6,1421.2 167.6,1422.0 168.6,1423.0 169.6,1424.0 170.6,1425.0 171.6,1426.0 172.6,1427.0 173.6,1427.5 174.6,1427.1 175.6,1426.7 176.6,1426.3 177.6,1426.0 178.6,1425.6 179.6,1425.2 180.6,1424.9 181.6,1424.5 182.6,1424.1 183.6,1424.3 184.6,1425.5 185.6,1426.6 186.6,1427.7 187.6,1428.8 188.6,1429.4 189.6,1429.5 190.6,1429.6 191.6,1429.6 192.6,1429.7 193.6,1429.7 194.6,1429.8 195.6,1429.9 196.6,1429.9 197.6,1430.0 198.6,1430.1 199.6,1430.2 200.6,1430.4 201.6,1430.7 202.6,1430.9 203.6,1431.2 204.6,1431.4 205.6,1431.7 206.6,1431.9 207.6,1432.2 208.6,1432.4 209.6,1432.5 210.6,1432.1 211.6,1431.8 212.6,1431.4 213.6,1431.1 214.6,1430.7 215.6,1430.4 216.6,1430.0 217.6,1429.7 218.6,1428.9 219.6,1428.0 220.6,1427.1 221.6,1426.2 222.6,1425.2 223.6,1424.3 224.6,1423.4 225.6,1422.6 226.6,1422.4 227.6,1422.2 228.6,1421.9 229.6,1421.7 230.6,1421.5 231.6,1421.3 232.6,1421.0 233.6,1420.8 234.6,1420.7 235.6,1420.8 236.6,1420.9 237.6,1421.0 238.6,1421.0 239.6,1421.1 240.6,1421.2 241.6,1421.2 242.6,1421.3 243.6,1421.4 244.6,1419.1 245.6,1415.9 246.6,1412.7 247.6,1409.5 248.6,1406.3 249.6,1406.2 250.6,1407.5 251.6,1408.7 252.6,1410.0 253.6,1411.2 254.6,1412.1 255.6,1413.0 256.6,1413.8 257.6,1414.6 258.6,1415.4 259.6,1416.2 260.6,1415.9 261.6,1414.9 262.6,1413.9 263.6,1413.0 264.6,1412.0 265.6,1411.0 266.6,1410.2 267.6,1410.1 268.6,1409.9 269.6,1409.7 270.6,1409.5 271.6,1409.4 272.6,1409.2 273.6,1409.0 274.6,1408.8 275.6,1408.5 276.6,1408.3 277.6,1408.0 278.6,1407.8 279.6,1407.5 280.6,1407.3 281.6,1407.0 282.6,1406.8 283.6,1406.5 284.6,1406.9 285.6,1407.4 286.6,1407.8 287.6,1408.2 288.6,1408.7 289.6,1409.1 290.6,1409.5 291.6,1409.2 292.6,1408.3 293.6,1407.4 294.6,1406.4 295.6,1405.5 296.6,1404.6 297.6,1404.3 298.6,1404.6 299.6,1405.0 300.6,1405.4 301.6,1405.8 302.6,1406.2 303.6,1406.5 304.6,1406.6 305.6,1406.8 306.6,1406.9 307.6,1407.0 308.6,1407.2 309.6,1407.3 310.6,1407.4 311.6,1407.6 312.6,1407.7 313.6,1407.7 314.6,1407.4 315.6,1407.1 316.6,1406.7 317.6,1406.4 318.6,1406.1 319.6,1405.7 320.6,1405.4 321.6,1405.1 322.6,1404.7 323.6,1404.4 324.6,1404.2 325.6,1405.0 326.6,1405.9 327.6,1406.7 328.6,1407.6 329.6,1408.4 330.6,1409.3 331.6,1410.1 332.6,1411.0 333.6,1411.6 334.6,1411.9 335.6,1412.1 336.6,1412.4 337.6,1412.6 338.6,1412.9 339.6,1413.1 340.6,1413.4 341.6,1413.6 342.6,1413.9 343.6,1414.3 344.6,1414.8 345.6,1415.4 346.6,1416.0 347.6,1416.5 348.6,1417.1 349.6,1417.7 350.6,1418.2 351.6,1418.8 352.6,1419.9 353.6,1421.1 354.6,1422.3 355.6,1423.4 356.6,1424.3 357.6,1425.3 358.6,1426.2 359.6,1427.2 360.6,1428.1 361.6,1429.0 362.6,1429.8 363.6,1429.6 364.6,1429.4 365.6,1429.3 366.6,1429.1 367.6,1429.1 368.6,1429.6 369.6,1430.0 370.6,1430.5 371.6,1430.9 372.6,1431.4 373.6,1431.9 374.6,1432.3 375.6,1432.8 376.6,1433.2 377.6,1433.7 378.6,1434.1 379.6,1434.6 380.6,1434.3 381.6,1433.9 382.6,1433.5 383.6,1433.0 384.6,1432.6 385.6,1432.1 386.6,1431.7 387.6,1431.2 388.6,1430.8 389.6,1430.3 390.6,1430.0 391.6,1429.6 392.6,1429.2 393.6,1428.8 394.6,1428.4 395.6,1428.1 396.6,1427.7 397.6,1427.3 398.6,1427.2 399.6,1428.0 400.6,1428.9 401.6,1429.7 402.6,1430.6 403.6,1431.5 404.6,1432.3 405.6,1433.2 406.6,1434.0 407.6,1434.9 408.6,1435.7 409.6,1436.5 410.6,1436.0 411.6,1435.5 412.6,1435.0 413.6,1434.5 414.6,1434.1 415.6,1434.7 416.6,1435.4 417.6,1436.1 418.6,1436.8 419.6,1437.5 420.6,1438.1 421.6,1438.8 422.6,1439.5 423.6,1440.2 424.6,1440.4 425.6,1438.8 426.6,1437.2 427.6,1435.6 428.6,1434.0 429.6,1432.4 430.6,1430.8 431.6,1432.4 432.6,1434.0 433.6,1435.7 434.6,1437.3 435.6,1438.9 436.6,1439.5 437.6,1440.1 438.6,1440.6 439.6,1441.2 440.6,1441.8 441.6,1442.4 442.6,1443.0 443.6,1443.6 444.6,1444.1 445.6,1444.6 446.6,1445.1 447.6,1445.6 448.6,1446.1 449.6,1446.3 450.6,1446.1 451.6,1445.9 452.6,1445.8 453.6,1446.5 454.6,1447.7 455.6,1448.9 456.6,1450.1 457.6,1449.3 458.6,1448.4 459.6,1447.6 460.6,1446.7 461.6,1445.9 462.6,1445.1 463.6,1444.2 464.6,1443.4 465.6,1442.6 466.6,1441.7 467.6,1440.9 468.6,1440.0 469.6,1440.7 470.6,1442.3 471.6,1443.9 472.6,1445.4 473.6,1447.0 474.6,1448.6 475.6,1449.5 476.6,1449.3 477.6,1449.1 478.6,1448.9 479.6,1448.7 480.6,1448.5 481.6,1448.3 482.6,1448.1 483.6,1449.5 484.6,1451.0 485.6,1452.5 486.6,1454.1 487.6,1455.6 488.6,1455.2 489.6,1454.8 490.6,1454.4 491.6,1454.0 492.6,1453.6 493.6,1453.2 494.6,1452.8 495.6,1452.7 496.6,1453.0 497.6,1453.3 498.6,1453.6 499.6,1453.9 500.6,1454.2 501.6,1454.5 502.6,1456.8 503.6,1459.5 504.6,1463.8 505.6,1467.8 506.6,1472.5 507.6,1476.7 508.6,1476.2 509.6,1475.7 510.6,1475.2 511.6,1474.7 512.6,1474.2 513.6,1474.6 514.6,1474.9 515.6,1475.2 516.6,1475.1 517.6,1474.5 518.6,1473.8 519.6,1473.1 520.6,1472.4 521.6,1471.7 522.6,1471.1 523.6,1470.4 524.6,1469.7 525.6,1469.0 526.6,1468.8 527.6,1469.1 528.6,1469.3 529.6,1469.6 530.6,1469.8 531.6,1470.0 532.6,1470.3 533.6,1470.6 534.6,1471.1 535.6,1471.6 536.6,1472.2 537.6,1472.7 538.6,1473.2 539.6,1473.8 540.6,1474.2 541.6,1474.4 542.6,1474.7 543.6,1474.9 544.6,1475.2 545.6,1474.8 546.6,1474.3 547.6,1473.8 548.6,1473.3 549.6,1472.8 550.6,1472.3 551.6,1472.4 552.6,1472.5 553.6,1472.7 554.6,1472.8 555.6,1473.0 556.6,1473.7 557.6,1474.4 558.6,1475.1 559.6,1475.7 560.6,1476.4 561.6,1477.0 562.6,1476.7 563.6,1476.5 564.6,1476.2 565.6,1476.0 566.6,1475.7 567.6,1475.3 568.6,1475.0 569.6,1474.6 570.6,1474.3 571.6,1474.1 572.6,1475.1 573.6,1476.1 574.6,1477.1 575.6,1478.1 576.6,1477.9 577.6,1477.5 578.6,1477.1 579.6,1476.7 580.6,1476.5 581.6,1477.1 582.6,1477.7 583.6,1478.4 584.6,1479.0 585.6,1479.4 586.6,1479.4 587.6,1479.4 588.6,1479.4 589.6,1479.4 590.6,1479.0 591.6,1478.4 592.6,1477.8 593.6,1477.2 594.6,1476.5 595.6,1476.4 596.6,1476.4 597.6,1476.4 598.6,1476.4 599.6,1476.3 600.6,1475.7 601.6,1475.1 602.6,1474.5 603.6,1473.9 604.6,1473.5 605.6,1473.5 606.6,1473.5 607.6,1473.5 608.6,1473.5 609.6,1473.5 610.6,1473.5 611.6,1473.3 612.6,1473.2 613.6,1473.1 614.6,1473.0 615.6,1472.4 616.6,1471.5 617.6,1470.6 618.6,1469.7 619.6,1468.8 620.6,1467.9 621.6,1468.0 622.6,1468.7 623.6,1469.5 624.6,1470.3 625.6,1471.0 626.6,1472.5 627.6,1474.1 628.6,1475.8 629.6,1477.4 630.6,1478.7 631.6,1477.3 632.6,1475.9 633.6,1474.5 634.6,1474.6 635.6,1475.6 636.6,1476.6 637.6,1477.6 638.6,1476.6 639.6,1475.6 640.6,1474.6 641.6,1473.7 642.6,1472.7 643.6,1471.7 644.6,1470.7 645.6,1471.1 646.6,1471.8 647.6,1472.6 648.6,1473.3 649.6,1474.0 650.6,1474.1 651.6,1474.3 652.6,1474.4 653.6,1474.5 654.6,1474.5 655.6,1474.3 656.6,1474.2 657.6,1474.0 658.6,1473.8 659.6,1473.6 660.6,1473.0 661.6,1472.2 662.6,1471.4 663.6,1470.8 664.6,1471.2 665.6,1471.6 666.6,1472.0 667.6,1472.4 668.6,1472.8 669.6,1473.2 670.6,1473.6 671.6,1474.0 672.6,1474.4 673.6,1473.8 674.6,1473.2 675.6,1472.6 676.6,1472.0 677.6,1471.4 678.6,1470.8 679.6,1470.2 680.6,1469.6 681.6,1469.5 682.6,1470.0 683.6,1470.4 684.6,1470.8 685.6,1471.3 686.6,1471.2 687.6,1470.6 688.6,1470.1 689.6,1469.5 690.6,1467.4 691.6,1467.0 692.6,1466.8 693.6,1466.6 694.6,1466.4 695.6,1466.2 696.6,1466.3 697.6,1466.8 698.6,1467.3 699.6,1467.8 700.6,1468.1 701.6,1466.5 702.6,1464.9 703.6,1463.3 704.6,1461.6 705.6,1460.0 706.6,1458.8 707.6,1459.0 708.6,1459.3 709.6,1459.6 710.6,1459.9 711.6,1461.1 712.6,1462.3 713.6,1463.5 714.6,1464.7 715.6,1464.8 716.6,1464.7 717.6,1464.6 718.6,1464.5 719.6,1464.4 720.6,1464.2 721.6,1463.9 722.6,1463.6 723.6,1463.3 724.6,1463.0 725.6,1462.8 726.6,1463.3 727.6,1464.0 728.6,1464.8 729.6,1465.5 730.6,1466.3 731.6,1467.0 732.6,1467.6 733.6,1468.2 734.6,1468.8 735.6,1469.4 736.6,1469.9 737.6,1472.0 738.6,1474.2 739.6,1476.5 740.6,1478.7 741.6,1479.7 742.6,1481.3 743.6,1481.4 744.6,1481.5 745.6,1482.2 746.6,1483.7 747.6,1485.2 748.6,1486.7 749.6,1487.9 750.6,1487.7 751.6,1487.6 752.6,1487.5 753.6,1487.3 754.6,1487.1 755.6,1486.6 756.6,1486.1 757.6,1485.9 758.6,1486.2 759.6,1486.5 760.6,1486.8 761.6,1487.1 762.6,1487.4 763.6,1487.5 764.6,1487.6 765.6,1487.8 766.6,1487.9 767.6,1488.0 768.6,1488.1 769.6,1487.9 770.6,1487.4 771.6,1486.9 772.6,1486.5 773.6,1486.0 774.6,1485.5 775.6,1485.9 776.6,1486.3 777.6,1486.6 778.6,1487.0 779.6,1487.4 780.6,1487.8 781.6,1488.2 782.6,1488.6 783.6,1489.1 784.6,1489.5 785.6,1490.0 786.6,1490.4 787.6,1490.9 788.6,1491.3 789.6,1491.8 790.6,1492.2 791.6,1492.6 792.6,1493.0 793.6,1493.4 794.6,1493.8 795.6,1494.2 796.6,1494.6 797.6,1495.0 798.6,1495.0 799.6,1495.0 800.6,1495.0 801.6,1495.0 802.6,1495.0 803.6,1495.0 804.6,1495.0 805.6,1495.0 806.6,1495.0 807.6,1494.7 808.6,1494.1 809.6,1493.6 810.6,1493.0 811.6,1492.4 812.6,1491.8 813.6,1491.3 814.6,1491.6 815.6,1491.8 816.6,1492.1 817.6,1492.3 818.6,1492.7 819.6,1493.5 820.6,1494.3 821.6,1495.0 822.6,1495.8 823.6,1496.0 824.6,1495.8 825.6,1495.7 826.6,1495.5 827.6,1495.3 828.6,1495.7 829.6,1496.2 830.6,1496.7 831.6,1497.2 832.6,1497.6 833.6,1497.0 834.6,1496.3 835.6,1495.6 836.6,1495.0 837.6,1494.6 838.6,1494.8 839.6,1495.1 840.6,1495.4 841.6,1495.6 842.6,1495.9 843.6,1496.2 844.6,1496.4 845.6,1496.6 846.6,1496.5 847.6,1496.4 848.6,1496.3 849.6,1496.3 850.6,1496.2 851.6,1496.1 852.6,1496.3 853.6,1496.4 854.6,1496.6 855.6,1496.8 856.6,1497.0 857.6,1497.1 858.6,1495.8 859.6,1496.6 860.6,1497.3 861.6,1498.1 862.6,1498.9 863.6,1499.4 864.6,1499.9 865.6,1500.3 866.6,1500.8 867.6,1501.3 868.6,1501.7 869.6,1502.4 870.6,1503.1 871.6,1503.8 872.6,1504.5 873.6,1505.1 874.6,1505.8 875.6,1506.5 876.6,1507.1 877.6,1507.5 878.6,1507.7 879.6,1507.8 880.6,1508.0 881.6,1508.2 882.6,1509.4 883.6,1510.7 884.6,1512.0 885.6,1513.3 886.6,1514.6 887.6,1515.7 888.6,1516.8 889.6,1517.9 890.6,1518.9 891.6,1519.6 892.6,1519.2 893.6,1518.8 894.6,1518.7 895.6,1519.5 896.6,1520.3 897.6,1521.1 898.6,1521.7 898.6,1542.7 897.6,1542.1 896.6,1541.3 895.6,1540.5 894.6,1539.7 893.6,1539.8 892.6,1540.2 891.6,1540.6 890.6,1539.9 889.6,1538.9 888.6,1537.8 887.6,1536.7 886.6,1535.6 885.6,1534.3 884.6,1533.0 883.6,1531.7 882.6,1530.4 881.6,1529.2 880.6,1529.0 879.6,1528.8 878.6,1528.7 877.6,1528.5 876.6,1528.1 875.6,1527.5 874.6,1526.8 873.6,1526.1 872.6,1525.5 871.6,1524.8 870.6,1524.1 869.6,1523.4 868.6,1522.7 867.6,1522.1 866.6,1521.1 865.6,1520.1 864.6,1519.2 863.6,1518.2 862.6,1517.2 861.6,1515.9 860.6,1514.6 859.6,1513.4 858.6,1512.1 857.6,1506.9 856.6,1506.8 855.6,1506.6 854.6,1506.4 853.6,1506.2 852.6,1506.1 851.6,1505.9 850.6,1506.0 849.6,1506.1 848.6,1506.1 847.6,1506.2 846.6,1506.3 845.6,1506.4 844.6,1506.2 843.6,1506.0 842.6,1505.7 841.6,1505.4 840.6,1505.2 839.6,1504.9 838.6,1504.6 837.6,1504.4 836.6,1504.8 835.6,1505.4 834.6,1506.1 833.6,1506.8 832.6,1507.4 831.6,1507.0 830.6,1506.5 829.6,1506.0 828.6,1505.5 827.6,1505.1 826.6,1505.3 825.6,1505.5 824.6,1505.6 823.6,1505.8 822.6,1505.6 821.6,1504.8 820.6,1504.1 819.6,1503.3 818.6,1502.5 817.6,1502.1 816.6,1501.9 815.6,1501.6 814.6,1501.4 813.6,1501.1 812.6,1501.6 811.6,1502.2 810.6,1502.8 809.6,1503.4 808.6,1503.9 807.6,1504.5 806.6,1504.8 805.6,1504.8 804.6,1504.8 803.6,1504.8 802.6,1504.8 801.6,1504.8 800.6,1504.8 799.6,1504.8 798.6,1504.8 797.6,1504.8 796.6,1504.4 795.6,1504.0 794.6,1503.6 793.6,1503.2 792.6,1502.8 791.6,1502.4 790.6,1502.0 789.6,1501.6 788.6,1501.1 787.6,1500.7 786.6,1500.2 785.6,1499.8 784.6,1499.3 783.6,1498.9 782.6,1498.4 781.6,1498.0 780.6,1497.6 779.6,1497.2 778.6,1496.8 777.6,1496.4 776.6,1496.1 775.6,1495.7 774.6,1495.3 773.6,1495.8 772.6,1496.3 771.6,1496.7 770.6,1497.2 769.6,1497.7 768.6,1497.9 767.6,1497.8 766.6,1497.7 765.6,1497.6 764.6,1497.4 763.6,1497.3 762.6,1497.2 761.6,1496.9 760.6,1496.6 759.6,1496.3 758.6,1496.0 757.6,1495.7 756.6,1495.9 755.6,1496.4 754.6,1496.9 753.6,1497.1 752.6,1497.3 751.6,1497.4 750.6,1497.5 749.6,1497.7 748.6,1496.5 747.6,1495.0 746.6,1493.5 745.6,1492.0 744.6,1491.3 743.6,1491.2 742.6,1491.1 741.6,1491.2 740.6,1490.2 739.6,1488.0 738.6,1485.7 737.6,1483.5 736.6,1481.4 735.6,1480.9 734.6,1480.3 733.6,1479.7 732.6,1479.1 731.6,1478.5 730.6,1477.8 729.6,1477.0 728.6,1476.3 727.6,1475.5 726.6,1474.8 725.6,1474.3 724.6,1474.5 723.6,1474.8 722.6,1475.1 721.6,1475.4 720.6,1475.7 719.6,1475.9 718.6,1476.0 717.6,1476.1 716.6,1476.2 715.6,1476.3 714.6,1476.2 713.6,1475.0 712.6,1473.8 711.6,1472.6 710.6,1471.4 709.6,1471.1 708.6,1470.8 707.6,1470.5 706.6,1470.3 705.6,1471.5 704.6,1473.1 703.6,1474.8 702.6,1476.4 701.6,1478.0 700.6,1479.6 699.6,1479.3 698.6,1478.8 697.6,1478.3 696.6,1477.8 695.6,1477.7 694.6,1477.9 693.6,1478.1 692.6,1478.3 691.6,1478.5 690.6,1478.9 689.6,1479.3 688.6,1479.9 687.6,1480.4 686.6,1481.0 685.6,1481.1 684.6,1480.6 683.6,1480.2 682.6,1479.8 681.6,1479.3 680.6,1479.4 679.6,1480.0 678.6,1480.6 677.6,1481.2 676.6,1481.8 675.6,1482.4 674.6,1483.0 673.6,1483.6 672.6,1484.2 671.6,1483.8 670.6,1483.4 669.6,1483.0 668.6,1482.6 667.6,1482.2 666.6,1481.8 665.6,1481.4 664.6,1481.0 663.6,1480.6 662.6,1481.2 661.6,1482.0 660.6,1482.8 659.6,1483.4 658.6,1483.6 657.6,1483.8 656.6,1484.0 655.6,1484.1 654.6,1484.3 653.6,1484.3 652.6,1484.2 651.6,1484.1 650.6,1483.9 649.6,1483.8 648.6,1483.1 647.6,1482.4 646.6,1481.6 645.6,1480.9 644.6,1480.5 643.6,1481.5 642.6,1482.5 641.6,1483.5 640.6,1484.4 639.6,1485.4 638.6,1486.4 637.6,1487.4 636.6,1486.4 635.6,1485.4 634.6,1484.4 633.6,1484.3 632.6,1485.7 631.6,1487.1 630.6,1488.5 629.6,1487.2 628.6,1485.6 627.6,1483.9 626.6,1482.3 625.6,1480.8 624.6,1480.1 623.6,1479.3 622.6,1478.5 621.6,1477.8 620.6,1477.7 619.6,1478.6 618.6,1479.5 617.6,1480.4 616.6,1481.3 615.6,1482.2 614.6,1482.8 613.6,1482.9 612.6,1483.0 611.6,1483.1 610.6,1483.2 609.6,1483.3 608.6,1483.3 607.6,1483.3 606.6,1483.3 605.6,1483.3 604.6,1483.3 603.6,1483.7 602.6,1484.3 601.6,1484.9 600.6,1485.5 599.6,1486.1 598.6,1486.2 597.6,1486.2 596.6,1486.2 595.6,1486.2 594.6,1486.3 593.6,1487.0 592.6,1487.6 591.6,1488.2 590.6,1488.8 589.6,1489.2 588.6,1489.2 587.6,1489.2 586.6,1489.2 585.6,1489.2 584.6,1488.8 583.6,1488.2 582.6,1487.5 581.6,1486.9 580.6,1486.3 579.6,1486.5 578.6,1486.9 577.6,1487.3 576.6,1487.7 575.6,1487.9 574.6,1486.9 573.6,1485.9 572.6,1484.9 571.6,1483.9 570.6,1484.1 569.6,1484.4 568.6,1484.8 567.6,1485.1 566.6,1485.5 565.6,1485.8 564.6,1486.0 563.6,1486.2 562.6,1486.5 561.6,1486.8 560.6,1486.2 559.6,1485.5 558.6,1484.9 557.6,1484.2 556.6,1483.5 555.6,1482.8 554.6,1482.6 553.6,1482.5 552.6,1482.3 551.6,1482.2 550.6,1482.1 549.6,1482.6 548.6,1483.1 547.6,1483.6 546.6,1484.1 545.6,1484.6 544.6,1485.0 543.6,1484.7 542.6,1484.5 541.6,1484.2 540.6,1484.0 539.6,1483.6 538.6,1483.0 537.6,1482.5 536.6,1482.0 535.6,1481.4 534.6,1480.9 533.6,1480.4 532.6,1480.1 531.6,1479.8 530.6,1479.6 529.6,1479.4 528.6,1479.1 527.6,1478.9 526.6,1478.6 525.6,1478.8 524.6,1479.5 523.6,1480.2 522.6,1480.9 521.6,1481.5 520.6,1482.2 519.6,1482.9 518.6,1483.6 517.6,1484.3 516.6,1484.9 515.6,1485.0 514.6,1484.7 513.6,1484.4 512.6,1484.0 511.6,1484.5 510.6,1485.0 509.6,1485.5 508.6,1486.0 507.6,1486.5 506.6,1482.3 505.6,1477.6 504.6,1472.1 503.6,1467.8 502.6,1465.1 501.6,1462.8 500.6,1462.5 499.6,1462.2 498.6,1461.9 497.6,1461.6 496.6,1461.3 495.6,1461.0 494.6,1461.1 493.6,1461.5 492.6,1461.9 491.6,1462.3 490.6,1462.7 489.6,1463.1 488.6,1463.5 487.6,1463.9 486.6,1462.4 485.6,1460.8 484.6,1459.3 483.6,1457.8 482.6,1456.4 481.6,1456.6 480.6,1456.8 479.6,1457.0 478.6,1457.2 477.6,1457.4 476.6,1457.6 475.6,1457.8 474.6,1456.9 473.6,1455.3 472.6,1453.7 471.6,1452.2 470.6,1450.6 469.6,1449.0 468.6,1448.3 467.6,1449.2 466.6,1450.0 465.6,1450.9 464.6,1451.7 463.6,1452.5 462.6,1453.4 461.6,1454.2 460.6,1455.0 459.6,1455.9 458.6,1456.7 457.6,1457.6 456.6,1458.4 455.6,1457.2 454.6,1456.0 453.6,1454.8 452.6,1454.1 451.6,1454.2 450.6,1454.4 449.6,1454.6 448.6,1454.4 447.6,1453.9 446.6,1453.4 445.6,1452.9 444.6,1452.4 443.6,1451.9 442.6,1451.3 441.6,1450.7 440.6,1450.1 439.6,1449.5 438.6,1448.9 437.6,1448.4 436.6,1447.8 435.6,1447.2 434.6,1445.6 433.6,1444.0 432.6,1442.3 431.6,1440.7 430.6,1439.1 429.6,1440.7 428.6,1442.3 427.6,1443.9 426.6,1445.5 425.6,1447.1 424.6,1448.7 423.6,1448.5 422.6,1447.8 421.6,1447.1 420.6,1446.4 419.6,1445.8 418.6,1445.1 417.6,1444.4 416.6,1443.7 415.6,1443.0 414.6,1442.4 413.6,1442.8 412.6,1443.2 411.6,1443.8 410.6,1444.2 409.6,1444.8 408.6,1444.0 407.6,1443.2 406.6,1442.3 405.6,1441.5 404.6,1440.6 403.6,1439.8 402.6,1438.9 401.6,1438.0 400.6,1437.2 399.6,1436.3 398.6,1435.5 397.6,1435.6 396.6,1436.0 395.6,1436.4 394.6,1436.7 393.6,1437.1 392.6,1437.5 391.6,1437.9 390.6,1438.3 389.6,1438.6 388.6,1439.1 387.6,1439.5 386.6,1440.0 385.6,1440.4 384.6,1440.9 383.6,1441.3 382.6,1441.8 381.6,1442.2 380.6,1442.6 379.6,1442.9 378.6,1442.4 377.6,1442.0 376.6,1441.5 375.6,1441.1 374.6,1440.6 373.6,1440.2 372.6,1439.7 371.6,1439.2 370.6,1438.8 369.6,1438.3 368.6,1437.9 367.6,1437.4 366.6,1437.4 365.6,1437.6 364.6,1437.7 363.6,1437.9 362.6,1438.1 361.6,1437.3 360.6,1436.4 359.6,1435.5 358.6,1434.5 357.6,1433.6 356.6,1432.6 355.6,1431.7 354.6,1430.6 353.6,1429.4 352.6,1428.2 351.6,1427.1 350.6,1426.5 349.6,1426.0 348.6,1425.4 347.6,1424.8 346.6,1424.3 345.6,1423.7 344.6,1423.1 343.6,1422.6 342.6,1422.2 341.6,1421.9 340.6,1421.7 339.6,1421.4 338.6,1421.2 337.6,1420.9 336.6,1420.7 335.6,1420.4 334.6,1420.2 333.6,1419.9 332.6,1419.3 331.6,1418.4 330.6,1417.6 329.6,1416.7 328.6,1415.9 327.6,1415.0 326.6,1414.2 325.6,1413.3 324.6,1412.5 323.6,1412.7 322.6,1413.0 321.6,1413.4 320.6,1413.7 319.6,1414.0 318.6,1414.4 317.6,1414.7 316.6,1415.0 315.6,1415.4 314.6,1415.7 313.6,1416.0 312.6,1416.0 311.6,1415.9 310.6,1415.7 309.6,1415.6 308.6,1415.5 307.6,1415.3 306.6,1415.2 305.6,1415.1 304.6,1414.9 303.6,1414.8 302.6,1414.5 301.6,1414.1 300.6,1413.7 299.6,1413.3 298.6,1412.9 297.6,1412.6 296.6,1412.9 295.6,1413.8 294.6,1414.7 293.6,1415.7 292.6,1416.6 291.6,1417.5 290.6,1417.8 289.6,1417.4 288.6,1417.0 287.6,1416.5 286.6,1416.1 285.6,1415.7 284.6,1415.2 283.6,1414.8 282.6,1415.1 281.6,1415.3 280.6,1415.6 279.6,1415.8 278.6,1416.1 277.6,1416.3 276.6,1416.6 275.6,1416.8 274.6,1417.1 273.6,1417.3 272.6,1417.5 271.6,1417.7 270.6,1417.8 269.6,1418.0 268.6,1418.2 267.6,1418.4 266.6,1418.5 265.6,1419.3 264.6,1420.3 263.6,1421.3 262.6,1422.2 261.6,1423.2 260.6,1424.2 259.6,1424.5 258.6,1423.7 257.6,1422.9 256.6,1422.1 255.6,1421.3 254.6,1420.4 253.6,1419.5 252.6,1418.3 251.6,1417.0 250.6,1415.8 249.6,1414.5 248.6,1414.6 247.6,1417.8 246.6,1421.0 245.6,1424.2 244.6,1427.4 243.6,1429.7 242.6,1429.6 241.6,1429.5 240.6,1429.5 239.6,1429.4 238.6,1429.3 237.6,1429.3 236.6,1429.2 235.6,1429.1 234.6,1429.0 233.6,1429.1 232.6,1429.3 231.6,1429.6 230.6,1429.8 229.6,1430.0 228.6,1430.2 227.6,1430.5 226.6,1430.7 225.6,1430.9 224.6,1431.7 223.6,1432.6 222.6,1433.5 221.6,1434.5 220.6,1435.4 219.6,1436.3 218.6,1437.2 217.6,1438.0 216.6,1438.3 215.6,1438.7 214.6,1439.0 213.6,1439.4 212.6,1439.7 211.6,1440.1 210.6,1440.4 209.6,1440.8 208.6,1440.7 207.6,1440.5 206.6,1440.2 205.6,1440.0 204.6,1439.7 203.6,1439.5 202.6,1439.2 201.6,1439.0 200.6,1438.7 199.6,1438.5 198.6,1438.4 197.6,1438.3 196.6,1438.2 195.6,1438.2 194.6,1438.1 193.6,1438.0 192.6,1438.0 191.6,1437.9 190.6,1437.9 189.6,1437.8 188.6,1437.7 187.6,1437.1 186.6,1436.0 185.6,1434.9 184.6,1433.8 183.6,1432.6 182.6,1432.4 181.6,1432.8 180.6,1433.2 179.6,1433.5 178.6,1433.9 177.6,1434.3 176.6,1434.6 175.6,1435.0 174.6,1435.4 173.6,1435.8 172.6,1435.3 171.6,1434.3 170.6,1433.3 169.6,1432.3 168.6,1431.3 167.6,1430.3 166.6,1429.5 165.6,1428.9 164.6,1428.3 163.6,1427.8 162.6,1427.2 161.6,1426.6 160.6,1426.1 159.6,1425.5 158.6,1424.9 157.6,1425.0 156.6,1425.3 155.6,1425.6 154.6,1425.8 153.6,1426.1 152.6,1426.4 151.6,1426.7 150.6,1427.0 149.6,1427.2 148.6,1427.0 147.6,1426.8 146.6,1426.5 145.6,1426.3 144.6,1426.1 143.6,1425.9 142.6,1425.7 141.6,1425.5 140.6,1425.2 139.6,1425.0 138.6,1424.8 137.6,1425.8 136.6,1426.9 135.6,1427.9 134.6,1429.0 133.6,1430.1 132.6,1431.2 131.6,1431.2 130.6,1430.9 129.6,1430.5 128.6,1430.1 127.6,1429.8 126.6,1430.6 125.6,1431.7 124.6,1432.9 123.6,1434.0 122.6,1435.2 121.6,1436.3 120.6,1437.4 119.6,1438.6 118.6,1439.7 117.6,1440.9" fill="#1b9bd8"/>
<polyline points="117.6,1437.0 118.0,1436.1 118.4,1430.0 118.7,1438.0 119.1,1440.3 119.5,1436.9 119.9,1433.0 120.3,1436.5 120.6,1432.9 121.0,1430.1 121.4,1433.8 121.8,1425.8 122.2,1430.1 122.5,1430.4 122.9,1421.6 123.3,1437.6 123.7,1433.4 124.1,1422.1 124.4,1432.7 124.8,1426.5 125.2,1418.0 125.6,1425.3 126.0,1426.3 126.3,1430.1 126.7,1428.5 127.1,1422.7 127.5,1428.3 127.9,1425.8 128.2,1422.6 128.6,1417.9 129.0,1426.2 129.4,1428.5 129.8,1432.5 130.1,1429.6 130.5,1426.5 130.9,1431.1 131.3,1429.0 131.7,1418.0 132.0,1428.2 132.4,1434.0 132.8,1425.1 133.2,1431.8 133.6,1428.3 133.9,1425.1 134.3,1426.6 134.7,1419.1 135.1,1422.9 135.5,1423.5 135.8,1419.8 136.2,1427.7 136.6,1427.2 137.0,1415.5 137.4,1419.3 137.7,1420.5 138.1,1428.4 138.5,1419.4 138.9,1407.2 139.3,1419.0 139.6,1414.9 140.0,1428.6 140.4,1418.8 140.8,1417.6 141.2,1421.1 141.5,1420.3 141.9,1421.3 142.3,1425.2 142.7,1419.6 143.1,1428.4 143.4,1427.9 143.8,1419.2 144.2,1423.5 144.6,1423.9 145.0,1422.8 145.3,1421.7 145.7,1428.0 146.1,1425.1 146.5,1423.6 146.9,1421.1 147.2,1421.0 147.6,1427.9 148.0,1424.8 148.4,1425.8 148.8,1420.6 149.1,1421.2 149.5,1421.3 149.9,1420.4 150.3,1428.7 150.7,1410.9 151.0,1424.4 151.4,1422.6 151.8,1424.2 152.2,1425.6 152.6,1419.6 152.9,1419.2 153.3,1420.5 153.7,1427.2 154.1,1420.3 154.5,1420.4 154.8,1422.1 155.2,1422.3 155.6,1419.3 156.0,1412.0 156.4,1426.9 156.7,1420.1 157.1,1421.6 157.5,1415.8 157.9,1418.1 158.3,1423.1 158.6,1420.2 159.0,1420.0 159.4,1431.5 159.8,1424.7 160.2,1425.3 160.5,1430.1 160.9,1420.2 161.3,1426.6 161.7,1420.8 162.1,1418.8 162.4,1423.0 162.8,1431.5 163.2,1425.5 163.6,1417.5 164.0,1424.8 164.3,1427.2 164.7,1423.7 165.1,1425.1 165.5,1426.6 165.9,1422.7 166.2,1426.4 166.6,1418.7 167.0,1417.4 167.4,1430.5 167.8,1421.2 168.1,1418.8 168.5,1428.5 168.9,1423.4 169.3,1420.1 169.7,1420.3 170.0,1434.1 170.4,1429.7 170.8,1427.0 171.2,1429.8 171.6,1433.0 171.9,1428.1 172.3,1439.7 172.7,1422.2 173.1,1428.9 173.5,1431.2 173.8,1434.7 174.2,1434.6 174.6,1435.7 175.0,1430.1 175.4,1431.7 175.7,1428.3 176.1,1428.7 176.5,1437.4 176.9,1432.4 177.3,1433.8 177.6,1431.5 178.0,1429.3 178.4,1435.3 178.8,1434.5 179.2,1422.4 179.5,1433.4 179.9,1430.1 180.3,1430.8 180.7,1430.3 181.1,1428.6 181.4,1428.8 181.8,1430.4 182.2,1426.6 182.6,1428.1 183.0,1429.6 183.3,1431.5 183.7,1430.8 184.1,1427.2 184.5,1434.9 184.9,1431.5 185.2,1431.9 185.6,1432.1 186.0,1432.5 186.4,1427.0 186.8,1431.5 187.1,1437.1 187.5,1438.3 187.9,1436.7 188.3,1435.7 188.7,1432.4 189.0,1436.9 189.4,1428.9 189.8,1429.1 190.2,1429.9 190.6,1434.2 190.9,1428.4 191.3,1441.0 191.7,1445.7 192.1,1433.4 192.5,1438.3 192.8,1431.5 193.2,1421.8 193.6,1428.4 194.0,1434.6 194.4,1438.5 194.7,1434.7 195.1,1433.1 195.5,1442.2 195.9,1436.1 196.3,1434.1 196.6,1442.1 197.0,1434.7 197.4,1426.0 197.8,1439.7 198.2,1436.6 198.5,1429.2 198.9,1435.2 199.3,1437.0 199.7,1434.8 200.1,1430.5 200.4,1433.3 200.8,1434.4 201.2,1435.9 201.6,1433.3 202.0,1433.1 202.3,1439.1 202.7,1434.0 203.1,1439.2 203.5,1434.4 203.9,1432.2 204.2,1425.9 204.6,1433.3 205.0,1438.4 205.4,1445.0 205.8,1437.6 206.1,1438.7 206.5,1430.9 206.9,1433.7 207.3,1435.2 207.7,1440.7 208.0,1443.4 208.4,1435.2 208.8,1440.5 209.2,1436.8 209.6,1433.6 209.9,1437.1 210.3,1438.4 210.7,1423.5 211.1,1431.8 211.5,1439.5 211.8,1439.5 212.2,1435.2 212.6,1440.0 213.0,1434.4 213.4,1431.7 213.7,1435.8 214.1,1429.9 214.5,1435.6 214.9,1426.6 215.3,1434.2 215.6,1435.5 216.0,1434.1 216.4,1430.4 216.8,1431.0 217.2,1434.3 217.5,1427.4 217.9,1434.4 218.3,1430.3 218.7,1434.8 219.1,1424.1 219.4,1442.8 219.8,1436.6 220.2,1437.2 220.6,1429.3 221.0,1436.4 221.3,1422.6 221.7,1429.8 222.1,1430.7 222.5,1434.6 222.9,1432.2 223.2,1423.7 223.6,1425.5 224.0,1429.2 224.4,1433.2 224.8,1418.9 225.1,1422.5 225.5,1426.3 225.9,1428.4 226.3,1427.6 226.7,1428.2 227.0,1428.8 227.4,1434.0 227.8,1427.4 228.2,1419.5 228.6,1422.3 228.9,1434.2 229.3,1430.1 229.7,1431.4 230.1,1418.3 230.5,1426.4 230.8,1429.4 231.2,1429.4 231.6,1423.0 232.0,1428.3 232.4,1422.2 232.7,1425.6 233.1,1422.2 233.5,1413.9 233.9,1427.3 234.3,1430.7 234.6,1421.3 235.0,1430.6 235.4,1422.2 235.8,1422.8 236.2,1430.3 236.5,1425.7 236.9,1425.0 237.3,1428.1 237.7,1425.6 238.1,1426.7 238.4,1432.1 238.8,1421.7 239.2,1417.2 239.6,1425.0 240.0,1423.6 240.3,1435.0 240.7,1432.2 241.1,1430.4 241.5,1427.9 241.9,1430.4 242.2,1425.8 242.6,1430.2 243.0,1430.4 243.4,1423.8 243.8,1427.7 244.1,1425.2 244.5,1423.1 244.9,1417.7 245.3,1407.5 245.7,1417.1 246.0,1420.3 246.4,1413.8 246.8,1420.2 247.2,1416.1 247.6,1412.9 247.9,1405.3 248.3,1408.3 248.7,1369.5 249.1,1369.5 249.5,1404.1 249.8,1415.6 250.2,1416.7 250.6,1408.8 251.0,1412.2 251.4,1409.7 251.7,1405.7 252.1,1409.4 252.5,1415.4 252.9,1406.7 253.3,1411.8 253.6,1420.6 254.0,1411.4 254.4,1412.3 254.8,1407.1 255.2,1421.7 255.5,1415.7 255.9,1426.2 256.3,1421.6 256.7,1420.8 257.1,1419.5 257.4,1401.3 257.8,1421.3 258.2,1425.6 258.6,1419.2 259.0,1416.3 259.3,1422.3 259.7,1420.5 260.1,1424.2 260.5,1422.2 260.9,1420.3 261.2,1405.3 261.6,1423.1 262.0,1420.8 262.4,1428.8 262.8,1422.3 263.1,1417.9 263.5,1421.5 263.9,1418.2 264.3,1417.0 264.7,1426.6 265.0,1415.3 265.4,1411.4 265.8,1411.4 266.2,1399.9 266.6,1420.4 266.9,1418.3 267.3,1419.0 267.7,1416.5 268.1,1415.3 268.5,1422.8 268.8,1420.3 269.2,1415.9 269.6,1418.0 270.0,1414.0 270.4,1414.9 270.7,1410.0 271.1,1419.4 271.5,1414.9 271.9,1409.9 272.3,1411.9 272.6,1418.5 273.0,1408.2 273.4,1419.7 273.8,1419.2 274.2,1411.3 274.5,1407.7 274.9,1412.6 275.3,1414.4 275.7,1418.1 276.1,1416.3 276.4,1414.2 276.8,1412.7 277.2,1403.7 277.6,1416.7 278.0,1403.8 278.3,1411.3 278.7,1408.9 279.1,1415.9 279.5,1408.2 279.9,1411.0 280.2,1415.2 280.6,1414.3 281.0,1417.2 281.4,1414.8 281.8,1414.2 282.1,1409.7 282.5,1408.1 282.9,1405.5 283.3,1414.5 283.7,1414.5 284.0,1410.4 284.4,1420.1 284.8,1413.4 285.2,1416.6 285.6,1401.3 285.9,1408.1 286.3,1407.2 286.7,1413.1 287.1,1411.9 287.5,1400.5 287.8,1414.7 288.2,1407.3 288.6,1408.9 289.0,1414.9 289.4,1405.2 289.7,1411.0 290.1,1411.2 290.5,1413.1 290.9,1410.4 291.3,1414.1 291.6,1422.5 292.0,1413.6 292.4,1397.1 292.8,1416.2 293.2,1404.5 293.5,1421.0 293.9,1411.1 294.3,1405.9 294.7,1399.5 295.1,1413.8 295.4,1413.0 295.8,1419.2 296.2,1403.9 296.6,1414.7 297.0,1412.8 297.3,1403.7 297.7,1414.9 298.1,1407.0 298.5,1404.2 298.9,1411.4 299.2,1391.8 299.6,1399.0 300.0,1404.6 300.4,1406.8 300.8,1409.3 301.1,1411.8 301.5,1405.4 301.9,1402.5 302.3,1403.2 302.7,1404.2 303.0,1401.3 303.4,1413.8 303.8,1412.0 304.2,1406.8 304.6,1409.5 304.9,1412.1 305.3,1408.2 305.7,1414.0 306.1,1419.0 306.5,1412.1 306.8,1412.1 307.2,1405.8 307.6,1410.6 308.0,1409.7 308.4,1414.2 308.7,1412.4 309.1,1418.5 309.5,1418.5 309.9,1409.9 310.3,1412.4 310.6,1411.0 311.0,1399.5 311.4,1412.3 311.8,1420.0 312.2,1417.6 312.5,1413.6 312.9,1407.9 313.3,1403.6 313.7,1399.5 314.1,1413.3 314.4,1414.6 314.8,1417.3 315.2,1415.3 315.6,1408.4 316.0,1413.6 316.3,1414.7 316.7,1411.9 317.1,1413.0 317.5,1409.6 317.9,1408.7 318.2,1407.6 318.6,1396.5 319.0,1405.6 319.4,1404.1 319.8,1410.6 320.1,1410.7 320.5,1405.0 320.9,1412.5 321.3,1406.3 321.7,1395.3 322.0,1406.7 322.4,1416.8 322.8,1410.8 323.2,1401.0 323.6,1407.3 323.9,1403.2 324.3,1410.0 324.7,1407.2 325.1,1407.8 325.5,1402.2 325.8,1403.7 326.2,1407.3 326.6,1406.0 327.0,1409.6 327.4,1420.7 327.7,1408.5 328.1,1407.2 328.5,1410.8 328.9,1406.1 329.3,1407.6 329.6,1414.2 330.0,1414.8 330.4,1416.9 330.8,1415.1 331.2,1401.9 331.5,1395.5 331.9,1418.0 332.3,1406.0 332.7,1427.6 333.1,1416.0 333.4,1423.6 333.8,1418.9 334.2,1410.7 334.6,1417.2 335.0,1418.3 335.3,1425.4 335.7,1418.9 336.1,1424.4 336.5,1416.4 336.9,1422.4 337.2,1415.3 337.6,1419.7 338.0,1419.3 338.4,1416.5 338.8,1415.3 339.1,1413.9 339.5,1422.6 339.9,1420.2 340.3,1420.4 340.7,1414.1 341.0,1405.7 341.4,1417.4 341.8,1416.3 342.2,1419.4 342.6,1417.6 342.9,1422.6 343.3,1418.3 343.7,1416.5 344.1,1403.5 344.5,1408.9 344.8,1420.3 345.2,1423.4 345.6,1418.6 346.0,1412.7 346.4,1420.8 346.7,1424.5 347.1,1419.9 347.5,1412.4 347.9,1414.5 348.3,1421.5 348.6,1418.3 349.0,1424.7 349.4,1421.3 349.8,1420.9 350.2,1420.2 350.5,1425.6 350.9,1421.3 351.3,1423.9 351.7,1427.9 352.1,1426.5 352.4,1420.7 352.8,1413.0 353.2,1422.7 353.6,1426.5 354.0,1423.1 354.3,1438.4 354.7,1426.8 355.1,1436.1 355.5,1430.0 355.9,1425.8 356.2,1432.4 356.6,1423.7 357.0,1427.4 357.4,1419.8 357.8,1432.3 358.1,1435.1 358.5,1424.3 358.9,1425.4 359.3,1424.8 359.7,1431.4 360.0,1429.1 360.4,1428.3 360.8,1437.1 361.2,1430.4 361.6,1433.7 361.9,1432.1 362.3,1433.0 362.7,1437.6 363.1,1429.9 363.5,1432.3 363.8,1432.2 364.2,1437.3 364.6,1429.6 365.0,1431.9 365.4,1432.4 365.7,1438.6 366.1,1438.2 366.5,1432.0 366.9,1436.3 367.3,1441.3 367.6,1436.1 368.0,1430.0 368.4,1432.8 368.8,1435.9 369.2,1438.8 369.5,1437.0 369.9,1435.3 370.3,1435.3 370.7,1439.6 371.1,1435.0 371.4,1433.4 371.8,1440.2 372.2,1432.5 372.6,1436.5 373.0,1440.5 373.3,1423.6 373.7,1443.8 374.1,1440.4 374.5,1438.6 374.9,1439.4 375.2,1431.7 375.6,1433.2 376.0,1434.4 376.4,1438.7 376.8,1429.0 377.1,1443.6 377.5,1438.7 377.9,1433.7 378.3,1434.3 378.7,1442.1 379.0,1437.0 379.4,1439.3 379.8,1440.5 380.2,1440.0 380.6,1438.8 380.9,1444.5 381.3,1441.0 381.7,1436.6 382.1,1435.2 382.5,1435.8 382.8,1441.8 383.2,1441.4 383.6,1445.8 384.0,1446.1 384.4,1440.4 384.7,1439.7 385.1,1433.7 385.5,1439.2 385.9,1435.6 386.3,1435.5 386.6,1431.1 387.0,1429.8 387.4,1433.3 387.8,1436.2 388.2,1435.0 388.5,1436.0 388.9,1436.1 389.3,1435.9 389.7,1435.1 390.1,1433.0 390.4,1435.7 390.8,1430.1 391.2,1434.8 391.6,1433.9 392.0,1430.6 392.3,1430.0 392.7,1432.1 393.1,1432.3 393.5,1434.8 393.9,1431.5 394.2,1437.8 394.6,1434.2 395.0,1434.5 395.4,1433.9 395.8,1438.7 396.1,1430.1 396.5,1431.0 396.9,1435.5 397.3,1429.7 397.7,1420.4 398.0,1431.7 398.4,1430.0 398.8,1433.8 399.2,1436.7 399.6,1420.2 399.9,1431.2 400.3,1426.4 400.7,1436.6 401.1,1435.5 401.5,1433.6 401.8,1427.3 402.2,1439.3 402.6,1432.5 403.0,1438.7 403.4,1437.9 403.7,1435.3 404.1,1433.6 404.5,1438.6 404.9,1431.3 405.3,1437.0 405.6,1428.5 406.0,1434.3 406.4,1423.1 406.8,1438.3 407.2,1436.9 407.5,1439.5 407.9,1441.9 408.3,1437.1 408.7,1440.3 409.1,1435.1 409.4,1440.1 409.8,1438.8 410.2,1435.9 410.6,1437.4 411.0,1424.5 411.3,1438.9 411.7,1442.4 412.1,1440.4 412.5,1445.0 412.9,1439.4 413.2,1442.2 413.6,1433.0 414.0,1440.4 414.4,1442.5 414.8,1423.0 415.1,1435.6 415.5,1440.5 415.9,1432.0 416.3,1440.4 416.7,1446.8 417.0,1444.2 417.4,1442.0 417.8,1437.7 418.2,1437.5 418.6,1441.4 418.9,1439.9 419.3,1445.0 419.7,1437.5 420.1,1441.2 420.5,1443.1 420.8,1432.0 421.2,1443.4 421.6,1439.6 422.0,1444.3 422.4,1447.5 422.7,1445.8 423.1,1440.3 423.5,1443.0 423.9,1439.3 424.3,1443.1 424.6,1440.6 425.0,1437.8 425.4,1442.7 425.8,1440.2 426.2,1436.7 426.5,1442.0 426.9,1443.8 427.3,1437.6 427.7,1443.5 428.1,1429.8 428.4,1445.4 428.8,1438.1 429.2,1432.0 429.6,1437.1 430.0,1433.8 430.3,1433.1 430.7,1428.9 431.1,1441.2 431.5,1439.2 431.9,1435.6 432.2,1430.6 432.6,1438.5 433.0,1435.5 433.4,1441.3 433.8,1438.9 434.1,1443.5 434.5,1444.9 434.9,1443.0 435.3,1437.3 435.7,1444.1 436.0,1443.1 436.4,1451.4 436.8,1442.7 437.2,1439.3 437.6,1445.4 437.9,1448.1 438.3,1448.8 438.7,1430.9 439.1,1440.8 439.5,1444.1 439.8,1445.4 440.2,1445.8 440.6,1439.7 441.0,1451.0 441.4,1439.6 441.7,1448.0 442.1,1446.9 442.5,1446.4 442.9,1454.0 443.3,1448.8 443.6,1449.5 444.0,1450.7 444.4,1449.7 444.8,1449.2 445.2,1453.0 445.5,1451.0 445.9,1452.6 446.3,1452.0 446.7,1450.6 447.1,1445.6 447.4,1451.0 447.8,1450.2 448.2,1453.9 448.6,1452.8 449.0,1443.2 449.3,1442.7 449.7,1455.8 450.1,1453.7 450.5,1451.1 450.9,1450.7 451.2,1450.1 451.6,1449.5 452.0,1455.7 452.4,1444.5 452.8,1455.8 453.1,1458.4 453.5,1451.2 453.9,1444.0 454.3,1444.7 454.7,1452.9 455.0,1461.4 455.4,1447.9 455.8,1454.1 456.2,1448.5 456.6,1453.0 456.9,1453.7 457.3,1457.6 457.7,1456.2 458.1,1449.9 458.5,1454.8 458.8,1453.3 459.2,1451.4 459.6,1450.0 460.0,1453.2 460.4,1460.6 460.7,1454.2 461.1,1454.3 461.5,1452.4 461.9,1450.5 462.3,1448.5 462.6,1448.8 463.0,1449.8 463.4,1443.2 463.8,1449.3 464.2,1452.1 464.5,1448.9 464.9,1444.8 465.3,1447.2 465.7,1442.8 466.1,1443.8 466.4,1447.4 466.8,1451.6 467.2,1446.1 467.6,1443.2 468.0,1448.7 468.3,1447.0 468.7,1447.6 469.1,1444.7 469.5,1452.2 469.9,1451.4 470.2,1440.8 470.6,1447.0 471.0,1447.5 471.4,1448.9 471.8,1452.1 472.1,1450.3 472.5,1447.8 472.9,1447.7 473.3,1453.2 473.7,1455.4 474.0,1457.6 474.4,1449.1 474.8,1453.4 475.2,1456.2 475.6,1451.0 475.9,1459.4 476.3,1449.3 476.7,1454.4 477.1,1450.9 477.5,1450.1 477.8,1459.7 478.2,1455.0 478.6,1447.7 479.0,1455.7 479.4,1453.2 479.7,1448.3 480.1,1453.3 480.5,1452.1 480.9,1456.7 481.3,1452.1 481.6,1450.4 482.0,1454.2 482.4,1453.5 482.8,1452.2 483.2,1447.8 483.5,1455.3 483.9,1451.0 484.3,1457.2 484.7,1453.0 485.1,1450.9 485.4,1459.2 485.8,1454.1 486.2,1465.4 486.6,1458.8 487.0,1464.1 487.3,1460.3 487.7,1454.4 488.1,1461.5 488.5,1456.7 488.9,1463.2 489.2,1465.1 489.6,1461.7 490.0,1456.7 490.4,1453.0 490.8,1452.3 491.1,1457.6 491.5,1456.8 491.9,1456.6 492.3,1458.6 492.7,1457.2 493.0,1459.1 493.4,1458.3 493.8,1451.2 494.2,1458.0 494.6,1451.3 494.9,1458.6 495.3,1458.1 495.7,1456.3 496.1,1462.2 496.5,1457.2 496.8,1458.5 497.2,1458.9 497.6,1458.9 498.0,1456.0 498.4,1459.4 498.7,1460.4 499.1,1459.4 499.5,1457.4 499.9,1462.3 500.3,1460.1 500.6,1452.7 501.0,1453.1 501.4,1464.6 501.8,1456.1 502.2,1455.2 502.5,1464.5 502.9,1463.5 503.3,1463.6 503.7,1469.1 504.1,1466.3 504.4,1465.4 504.8,1467.5 505.2,1471.0 505.6,1468.9 506.0,1472.5 506.3,1468.0 506.7,1481.4 507.1,1478.9 507.5,1478.1 507.9,1482.3 508.2,1472.6 508.6,1482.6 509.0,1479.2 509.4,1483.3 509.8,1478.2 510.1,1473.4 510.5,1475.0 510.9,1477.1 511.3,1478.2 511.7,1481.3 512.0,1484.7 512.4,1470.1 512.8,1473.2 513.2,1476.4 513.6,1487.7 513.9,1483.9 514.3,1480.9 514.7,1482.7 515.1,1478.0 515.5,1473.4 515.8,1491.6 516.2,1484.3 516.6,1472.6 517.0,1481.5 517.4,1481.9 517.7,1481.6 518.1,1478.9 518.5,1478.8 518.9,1472.7 519.3,1484.8 519.6,1479.7 520.0,1472.6 520.4,1475.6 520.8,1467.8 521.2,1467.0 521.5,1485.0 521.9,1477.9 522.3,1467.2 522.7,1473.6 523.1,1471.0 523.4,1478.1 523.8,1470.6 524.2,1477.5 524.6,1475.4 525.0,1475.0 525.3,1475.4 525.7,1477.1 526.1,1477.5 526.5,1467.6 526.9,1476.8 527.2,1482.9 527.6,1476.7 528.0,1468.1 528.4,1470.8 528.8,1480.4 529.1,1470.3 529.5,1473.8 529.9,1479.5 530.3,1472.7 530.7,1478.0 531.0,1459.3 531.4,1477.5 531.8,1476.1 532.2,1471.4 532.6,1477.4 532.9,1476.2 533.3,1466.1 533.7,1475.5 534.1,1472.8 534.5,1482.6 534.8,1467.1 535.2,1479.6 535.6,1483.5 536.0,1475.4 536.4,1486.0 536.7,1479.3 537.1,1477.0 537.5,1479.9 537.9,1482.4 538.3,1474.6 538.6,1477.6 539.0,1476.4 539.4,1472.8 539.8,1473.3 540.2,1464.5 540.5,1480.9 540.9,1479.9 541.3,1477.5 541.7,1479.3 542.1,1470.5 542.4,1478.7 542.8,1483.1 543.2,1483.9 543.6,1478.7 544.0,1482.9 544.3,1468.2 544.7,1479.3 545.1,1481.0 545.5,1481.3 545.9,1479.2 546.2,1470.9 546.6,1482.0 547.0,1478.7 547.4,1476.8 547.8,1470.2 548.1,1471.4 548.5,1468.2 548.9,1475.3 549.3,1478.4 549.7,1474.0 550.0,1483.7 550.4,1472.6 550.8,1471.9 551.2,1470.7 551.6,1472.8 551.9,1481.0 552.3,1469.9 552.7,1473.5 553.1,1476.4 553.5,1477.5 553.8,1468.6 554.2,1478.6 554.6,1473.2 555.0,1479.0 555.4,1486.4 555.7,1482.0 556.1,1487.0 556.5,1478.4 556.9,1473.5 557.3,1475.4 557.6,1480.5 558.0,1480.3 558.4,1477.2 558.8,1478.8 559.2,1474.6 559.5,1480.5 559.9,1486.5 560.3,1471.1 560.7,1478.3 561.1,1483.9 561.4,1481.8 561.8,1482.2 562.2,1490.2 562.6,1484.8 563.0,1476.5 563.3,1483.6 563.7,1484.2 564.1,1478.9 564.5,1472.1 564.9,1475.6 565.2,1479.6 565.6,1471.6 566.0,1482.0 566.4,1478.5 566.8,1479.5 567.1,1490.5 567.5,1473.1 567.9,1470.3 568.3,1476.7 568.7,1465.3 569.0,1475.1 569.4,1470.4 569.8,1473.7 570.2,1486.3 570.6,1480.2 570.9,1475.0 571.3,1480.2 571.7,1474.4 572.1,1481.5 572.5,1480.7 572.8,1477.4 573.2,1480.9 573.6,1480.2 574.0,1481.6 574.4,1473.1 574.7,1487.4 575.1,1493.3 575.5,1481.3 575.9,1488.6 576.3,1482.9 576.6,1481.6 577.0,1482.9 577.4,1494.3 577.8,1485.9 578.2,1481.4 578.5,1478.0 578.9,1480.4 579.3,1474.1 579.7,1482.0 580.1,1484.0 580.4,1471.1 580.8,1481.3 581.2,1483.3 581.6,1483.0 582.0,1483.5 582.3,1477.8 582.7,1487.6 583.1,1483.2 583.5,1492.3 583.9,1489.8 584.2,1482.7 584.6,1488.6 585.0,1486.0 585.4,1480.2 585.8,1488.9 586.1,1483.0 586.5,1487.6 586.9,1482.8 587.3,1489.8 587.7,1485.1 588.0,1489.5 588.4,1491.1 588.8,1487.5 589.2,1480.8 589.6,1490.6 589.9,1480.1 590.3,1474.3 590.7,1480.3 591.1,1477.8 591.5,1480.5 591.8,1483.6 592.2,1486.0 592.6,1486.9 593.0,1488.9 593.4,1481.9 593.7,1478.3 594.1,1486.1 594.5,1481.3 594.9,1485.9 595.3,1482.5 595.6,1484.7 596.0,1481.1 596.4,1484.1 596.8,1481.9 597.2,1486.1 597.5,1479.2 597.9,1481.9 598.3,1480.1 598.7,1483.8 599.1,1484.8 599.4,1483.3 599.8,1481.7 600.2,1478.2 600.6,1475.3 601.0,1476.9 601.3,1479.1 601.7,1477.2 602.1,1479.3 602.5,1483.2 602.9,1482.1 603.2,1476.6 603.6,1473.7 604.0,1469.0 604.4,1467.3 604.8,1477.8 605.1,1472.7 605.5,1479.2 605.9,1480.9 606.3,1469.8 606.7,1468.6 607.0,1472.7 607.4,1474.6 607.8,1478.2 608.2,1468.5 608.6,1471.9 608.9,1474.9 609.3,1474.0 609.7,1475.9 610.1,1480.6 610.5,1483.9 610.8,1489.1 611.2,1475.6 611.6,1487.2 612.0,1478.4 612.4,1483.3 612.7,1480.5 613.1,1478.5 613.5,1481.1 613.9,1475.6 614.3,1479.1 614.6,1478.6 615.0,1478.0 615.4,1478.7 615.8,1469.9 616.2,1481.0 616.5,1476.5 616.9,1483.4 617.3,1473.8 617.7,1471.4 618.1,1471.6 618.4,1472.5 618.8,1479.2 619.2,1464.4 619.6,1476.2 620.0,1469.7 620.3,1480.1 620.7,1477.7 621.1,1467.8 621.5,1475.9 621.9,1484.8 622.2,1476.0 622.6,1470.3 623.0,1472.3 623.4,1470.6 623.8,1475.1 624.1,1473.2 624.5,1471.7 624.9,1483.5 625.3,1481.8 625.7,1469.4 626.0,1476.6 626.4,1474.8 626.8,1476.8 627.2,1483.7 627.6,1477.0 627.9,1486.3 628.3,1478.7 628.7,1471.1 629.1,1469.3 629.5,1486.7 629.8,1487.8 630.2,1477.3 630.6,1483.0 631.0,1484.1 631.4,1482.8 631.7,1487.5 632.1,1484.3 632.5,1474.6 632.9,1475.4 633.3,1476.1 633.6,1482.3 634.0,1468.6 634.4,1473.9 634.8,1482.4 635.2,1480.8 635.5,1481.4 635.9,1479.7 636.3,1480.3 636.7,1473.5 637.1,1482.4 637.4,1486.9 637.8,1485.7 638.2,1490.6 638.6,1480.3 639.0,1480.6 639.3,1478.1 639.7,1479.4 640.1,1482.5 640.5,1481.4 640.9,1484.2 641.2,1480.2 641.6,1477.6 642.0,1476.9 642.4,1486.6 642.8,1476.5 643.1,1478.2 643.5,1470.4 643.9,1475.6 644.3,1472.4 644.7,1474.2 645.0,1469.7 645.4,1477.2 645.8,1471.3 646.2,1476.4 646.6,1470.9 646.9,1475.3 647.3,1475.6 647.7,1477.1 648.1,1475.9 648.5,1471.6 648.8,1476.6 649.2,1478.0 649.6,1475.5 650.0,1479.7 650.4,1479.0 650.7,1477.0 651.1,1482.8 651.5,1485.5 651.9,1478.1 652.3,1480.0 652.6,1479.6 653.0,1478.4 653.4,1479.2 653.8,1484.2 654.2,1478.5 654.5,1483.3 654.9,1476.0 655.3,1480.7 655.7,1482.8 656.1,1477.9 656.4,1477.8 656.8,1475.2 657.2,1472.1 657.6,1475.9 658.0,1479.2 658.3,1476.2 658.7,1479.9 659.1,1470.4 659.5,1477.7 659.9,1484.1 660.2,1486.8 660.6,1488.2 661.0,1473.4 661.4,1475.8 661.8,1484.4 662.1,1479.9 662.5,1479.9 662.9,1470.2 663.3,1470.5 663.7,1469.5 664.0,1472.0 664.4,1477.4 664.8,1479.1 665.2,1472.9 665.6,1473.0 665.9,1478.9 666.3,1475.3 666.7,1476.5 667.1,1475.3 667.5,1474.1 667.8,1477.2 668.2,1471.3 668.6,1477.1 669.0,1480.1 669.4,1479.3 669.7,1479.1 670.1,1469.7 670.5,1475.0 670.9,1482.0 671.3,1477.5 671.6,1484.1 672.0,1482.9 672.4,1480.7 672.8,1476.7 673.2,1475.6 673.5,1473.6 673.9,1477.5 674.3,1479.5 674.7,1481.8 675.1,1475.2 675.4,1484.8 675.8,1473.2 676.2,1471.2 676.6,1476.1 677.0,1472.7 677.3,1475.1 677.7,1472.5 678.1,1476.8 678.5,1474.6 678.9,1474.4 679.2,1462.0 679.6,1473.1 680.0,1471.1 680.4,1482.9 680.8,1472.1 681.1,1475.3 681.5,1470.0 681.9,1477.5 682.3,1478.1 682.7,1475.5 683.0,1471.6 683.4,1476.3 683.8,1472.6 684.2,1472.6 684.6,1476.6 684.9,1479.0 685.3,1469.6 685.7,1474.1 686.1,1472.3 686.5,1478.1 686.8,1461.4 687.2,1471.3 687.6,1482.5 688.0,1477.7 688.4,1476.8 688.7,1477.8 689.1,1479.8 689.5,1464.4 689.9,1472.9 690.3,1461.2 690.6,1476.2 691.0,1473.1 691.4,1460.1 691.8,1474.3 692.2,1472.1 692.5,1472.8 692.9,1460.7 693.3,1473.6 693.7,1486.2 694.1,1459.8 694.4,1472.8 694.8,1475.2 695.2,1476.6 695.6,1463.4 696.0,1473.7 696.3,1474.1 696.7,1472.0 697.1,1475.9 697.5,1457.1 697.9,1474.6 698.2,1477.5 698.6,1461.5 699.0,1471.7 699.4,1472.4 699.8,1466.3 700.1,1455.1 700.5,1465.2 700.9,1477.5 701.3,1479.1 701.7,1469.9 702.0,1466.9 702.4,1470.9 702.8,1463.4 703.2,1455.2 703.6,1466.4 703.9,1473.0 704.3,1471.6 704.7,1465.8 705.1,1465.9 705.5,1458.6 705.8,1451.5 706.2,1470.7 706.6,1460.5 707.0,1469.2 707.4,1471.8 707.7,1471.5 708.1,1456.2 708.5,1461.0 708.9,1466.6 709.3,1471.5 709.6,1458.4 710.0,1461.5 710.4,1465.7 710.8,1463.6 711.2,1476.3 711.5,1475.2 711.9,1468.1 712.3,1470.7 712.7,1466.4 713.1,1468.1 713.4,1466.7 713.8,1453.3 714.2,1469.6 714.6,1454.0 715.0,1464.0 715.3,1478.7 715.7,1479.8 716.1,1476.9 716.5,1476.2 716.9,1472.2 717.2,1462.8 717.6,1475.9 718.0,1476.5 718.4,1458.9 718.8,1468.6 719.1,1469.1 719.5,1466.9 719.9,1472.8 720.3,1469.0 720.7,1472.3 721.0,1465.4 721.4,1465.7 721.8,1474.1 722.2,1473.8 722.6,1482.0 722.9,1464.8 723.3,1470.8 723.7,1469.8 724.1,1460.0 724.5,1465.1 724.8,1473.0 725.2,1465.5 725.6,1474.2 726.0,1472.0 726.4,1476.5 726.7,1474.9 727.1,1468.2 727.5,1470.8 727.9,1472.5 728.3,1465.1 728.6,1476.6 729.0,1471.3 729.4,1464.7 729.8,1477.0 730.2,1471.7 730.5,1475.7 730.9,1470.7 731.3,1474.5 731.7,1473.4 732.1,1475.7 732.4,1467.6 732.8,1473.3 733.2,1484.6 733.6,1467.3 734.0,1472.4 734.3,1472.5 734.7,1473.8 735.1,1467.8 735.5,1473.9 735.9,1474.0 736.2,1458.3 736.6,1465.0 737.0,1476.9 737.4,1472.9 737.8,1469.5 738.1,1478.5 738.5,1483.0 738.9,1486.6 739.3,1490.5 739.7,1482.7 740.0,1484.6 740.4,1489.2 740.8,1489.1 741.2,1497.6 741.6,1486.5 741.9,1471.9 742.3,1488.0 742.7,1483.5 743.1,1484.8 743.5,1485.3 743.8,1484.9 744.2,1488.9 744.6,1484.6 745.0,1488.5 745.4,1485.0 745.7,1497.5 746.1,1491.5 746.5,1485.8 746.9,1481.7 747.3,1489.9 747.6,1490.2 748.0,1491.8 748.4,1490.3 748.8,1481.9 749.2,1494.8 749.5,1501.3 749.9,1498.7 750.3,1491.4 750.7,1495.5 751.1,1488.9 751.4,1496.6 751.8,1495.5 752.2,1492.0 752.6,1489.1 753.0,1499.7 753.3,1499.8 753.7,1490.8 754.1,1489.6 754.5,1491.1 754.9,1496.9 755.2,1494.3 755.6,1490.8 756.0,1490.2 756.4,1490.1 756.8,1493.8 757.1,1486.7 757.5,1491.0 757.9,1484.1 758.3,1493.1 758.7,1487.7 759.0,1492.2 759.4,1489.0 759.8,1497.2 760.2,1488.2 760.6,1492.9 760.9,1487.1 761.3,1494.4 761.7,1488.5 762.1,1493.9 762.5,1489.0 762.8,1482.9 763.2,1488.7 763.6,1486.6 764.0,1493.9 764.4,1492.2 764.7,1496.4 765.1,1492.1 765.5,1502.1 765.9,1494.6 766.3,1493.5 766.6,1489.9 767.0,1493.4 767.4,1495.6 767.8,1490.1 768.2,1496.5 768.5,1494.7 768.9,1478.9 769.3,1490.5 769.7,1496.6 770.1,1489.4 770.4,1494.8 770.8,1490.5 771.2,1487.0 771.6,1488.1 772.0,1496.9 772.3,1489.0 772.7,1492.7 773.1,1492.9 773.5,1490.6 773.9,1498.8 774.2,1482.0 774.6,1493.5 775.0,1490.6 775.4,1493.2 775.8,1505.0 776.1,1494.0 776.5,1483.7 776.9,1490.8 777.3,1487.0 777.7,1491.0 778.0,1491.5 778.4,1491.5 778.8,1496.0 779.2,1492.8 779.6,1493.0 779.9,1493.2 780.3,1489.1 780.7,1492.6 781.1,1484.8 781.5,1494.0 781.8,1489.0 782.2,1498.8 782.6,1499.2 783.0,1483.5 783.4,1498.2 783.7,1496.2 784.1,1495.9 784.5,1495.5 784.9,1491.8 785.3,1494.8 785.6,1495.8 786.0,1498.1 786.4,1488.5 786.8,1488.0 787.2,1494.1 787.5,1503.4 787.9,1496.0 788.3,1486.1 788.7,1493.8 789.1,1493.5 789.4,1498.8 789.8,1487.3 790.2,1500.0 790.6,1492.5 791.0,1488.9 791.3,1494.0 791.7,1493.0 792.1,1494.8 792.5,1503.8 792.9,1500.0 793.2,1504.5 793.6,1501.7 794.0,1499.3 794.4,1497.5 794.8,1503.7 795.1,1499.5 795.5,1502.4 795.9,1500.9 796.3,1504.5 796.7,1500.9 797.0,1494.6 797.4,1498.6 797.8,1497.1 798.2,1498.1 798.6,1501.1 798.9,1503.6 799.3,1495.0 799.7,1492.7 800.1,1502.3 800.5,1502.3 800.8,1505.8 801.2,1497.8 801.6,1500.6 802.0,1494.5 802.4,1500.8 802.7,1500.2 803.1,1497.1 803.5,1504.5 803.9,1499.0 804.3,1503.5 804.6,1499.0 805.0,1500.2 805.4,1497.7 805.8,1498.5 806.2,1506.6 806.5,1502.1 806.9,1500.9 807.3,1500.0 807.7,1499.2 808.1,1496.9 808.4,1493.8 808.8,1497.0 809.2,1497.5 809.6,1496.6 810.0,1496.0 810.3,1500.8 810.7,1503.1 811.1,1499.7 811.5,1500.3 811.9,1493.2 812.2,1497.2 812.6,1497.0 813.0,1494.2 813.4,1494.9 813.8,1500.0 814.1,1500.3 814.5,1499.3 814.9,1497.6 815.3,1493.4 815.7,1501.9 816.0,1505.5 816.4,1498.2 816.8,1497.2 817.2,1495.2 817.6,1493.8 817.9,1495.0 818.3,1500.3 818.7,1495.9 819.1,1501.6 819.5,1503.1 819.8,1495.0 820.2,1500.3 820.6,1491.1 821.0,1498.9 821.4,1498.5 821.7,1490.1 822.1,1493.2 822.5,1500.7 822.9,1507.3 823.3,1507.0 823.6,1497.9 824.0,1504.0 824.4,1498.3 824.8,1498.5 825.2,1501.3 825.5,1500.7 825.9,1502.5 826.3,1503.5 826.7,1496.6 827.1,1499.3 827.4,1505.3 827.8,1496.5 828.2,1506.5 828.6,1497.1 829.0,1495.1 829.3,1502.2 829.7,1503.8 830.1,1499.1 830.5,1491.0 830.9,1500.4 831.2,1507.4 831.6,1509.6 832.0,1497.2 832.4,1497.4 832.8,1498.4 833.1,1505.3 833.5,1508.7 833.9,1500.8 834.3,1511.2 834.7,1499.2 835.0,1495.6 835.4,1497.2 835.8,1497.1 836.2,1500.3 836.6,1501.6 836.9,1507.5 837.3,1500.7 837.7,1495.9 838.1,1503.2 838.5,1495.1 838.8,1494.5 839.2,1503.3 839.6,1501.1 840.0,1498.0 840.4,1499.1 840.7,1500.7 841.1,1502.5 841.5,1508.6 841.9,1503.9 842.3,1502.7 842.6,1503.2 843.0,1500.5 843.4,1505.3 843.8,1499.7 844.2,1505.5 844.5,1498.7 844.9,1505.3 845.3,1504.8 845.7,1510.7 846.1,1502.1 846.4,1501.6 846.8,1496.3 847.2,1504.6 847.6,1500.8 848.0,1501.2 848.3,1501.3 848.7,1496.6 849.1,1486.2 849.5,1506.4 849.9,1500.1 850.2,1499.4 850.6,1495.9 851.0,1508.4 851.4,1504.4 851.8,1500.7 852.1,1500.6 852.5,1500.6 852.9,1504.3 853.3,1502.4 853.7,1495.5 854.0,1499.2 854.4,1502.5 854.8,1505.1 855.2,1502.8 855.6,1500.7 855.9,1501.3 856.3,1506.4 856.7,1506.5 857.1,1508.2 857.5,1505.2 857.8,1497.2 858.2,1507.0 858.6,1506.1 859.0,1495.2 859.4,1509.0 859.7,1494.7 860.1,1523.8 860.5,1531.3 860.9,1510.4 861.3,1508.2 861.6,1515.9 862.0,1510.4 862.4,1520.2 862.8,1542.2 863.2,1498.9 863.5,1499.9 863.9,1518.1 864.3,1515.4 864.7,1526.2 865.1,1514.6 865.4,1518.7 865.8,1510.8 866.2,1535.1 866.6,1521.1 867.0,1523.9 867.3,1536.5 867.7,1508.4 868.1,1526.7 868.5,1499.2 868.9,1513.4 869.2,1538.7 869.6,1499.1 870.0,1510.5 870.4,1517.2 870.8,1522.6 871.1,1496.4 871.5,1519.8 871.9,1514.9 872.3,1508.2 872.7,1508.3 873.0,1514.9 873.4,1512.1 873.8,1513.6 874.2,1544.1 874.6,1528.6 874.9,1517.5 875.3,1500.8 875.7,1503.1 876.1,1515.6 876.5,1517.9 876.8,1500.2 877.2,1525.2 877.6,1528.8 878.0,1526.4 878.4,1518.4 878.7,1520.2 879.1,1514.3 879.5,1531.5 879.9,1522.3 880.3,1525.5 880.6,1529.1 881.0,1525.3 881.4,1512.1 881.8,1515.6 882.2,1530.5 882.5,1529.1 882.9,1531.5 883.3,1546.4 883.7,1537.5 884.1,1538.1 884.4,1516.2 884.8,1514.7 885.2,1519.4 885.6,1498.2 886.0,1539.1 886.3,1553.0 886.7,1513.6 887.1,1537.4 887.5,1545.3 887.9,1552.9 888.2,1539.8 888.6,1538.5 889.0,1545.5 889.4,1521.0 889.8,1541.7 890.1,1525.9 890.5,1514.9 890.9,1530.6 891.3,1528.8 891.7,1558.6 892.0,1529.8 892.4,1539.7 892.8,1543.2 893.2,1549.9 893.6,1540.9 893.9,1533.6 894.3,1529.2 894.7,1530.8 895.1,1521.4 895.5,1507.8 895.8,1539.8 896.2,1530.4 896.6,1518.9 897.0,1534.6 897.4,1540.9 897.7,1531.4 898.1,1527.1 898.5,1547.0 898.9,1531.1" fill="none" stroke="#1b9bd8" stroke-width="1.8" stroke-linejoin="round"/>
<polyline points="117.5,1437.0 118.7,1435.6 127.4,1425.7 132.3,1427.5 138.5,1420.8 149.7,1423.2 158.4,1420.8 167.0,1425.7 173.2,1431.9 183.2,1428.2 188.1,1433.7 199.3,1434.4 209.2,1436.9 217.9,1433.9 225.3,1427.0 234.0,1425.0 243.9,1425.7 248.9,1409.6 253.8,1415.8 260.0,1420.8 266.3,1414.6 273.7,1413.3 283.6,1410.8 291.0,1414.0 297.2,1408.4 303.5,1410.8 313.4,1412.1 324.5,1408.4 333.2,1415.8 343.1,1418.3 351.8,1423.2 355.0,1427.1 362.4,1434.1 367.4,1433.3 379.8,1439.0 389.7,1434.6 398.4,1431.3 409.5,1440.8 414.5,1438.3 424.4,1445.0 430.6,1435.1 435.6,1443.2 444.2,1448.2 449.2,1450.7 452.9,1450.0 456.6,1454.4 469.0,1444.0 475.2,1453.9 482.7,1452.4 487.6,1459.9 495.1,1456.9 501.8,1458.9 503.8,1464.3 507.5,1481.7 512.5,1479.2 516.2,1480.4 526.1,1473.7 533.5,1475.5 540.0,1479.0 544.8,1480.2 550.7,1477.3 555.5,1477.9 561.4,1482.0 566.2,1480.8 571.5,1479.0 575.7,1483.2 580.5,1481.4 585.2,1484.4 590.0,1484.4 594.8,1481.4 599.5,1481.4 604.3,1478.5 610.2,1478.5 615.0,1477.9 621.0,1472.5 625.7,1476.1 630.5,1483.8 634.0,1479.0 637.6,1482.6 644.8,1475.5 649.5,1479.0 654.3,1479.6 660.0,1478.5 663.4,1475.7 672.6,1479.4 681.1,1474.3 686.1,1476.5 691.2,1473.6 696.3,1472.6 700.5,1474.8 706.4,1465.2 710.6,1466.4 714.8,1471.4 719.9,1470.9 725.8,1469.2 731.7,1473.6 736.7,1476.5 741.0,1486.1 745.2,1486.6 749.4,1492.9 754.4,1492.2 757.1,1490.8 762.7,1492.4 769.0,1493.2 774.6,1490.5 781.7,1493.2 789.7,1496.8 797.6,1500.0 807.1,1500.0 813.5,1496.3 818.3,1497.5 823.0,1501.1 827.8,1500.3 832.5,1502.7 837.3,1499.5 845.2,1501.6 851.6,1501.1 857.9,1502.2 862.7,1508.3 867.5,1513.0 872.2,1516.2 877.0,1519.4 881.7,1520.2 886.5,1526.5 891.3,1531.7 894.4,1530.5 898.4,1533.7" fill="none" stroke="#e6212a" stroke-width="3.3" stroke-linejoin="round" stroke-linecap="round"/>
<path d="M502.2 1495.8 H511.2 M502.2 1493.3 V1498.3 M511.2 1493.3 V1498.3" stroke="#231815" stroke-width="1.4" fill="none"/>
<text x="415" y="1523.3" font-size="25.2">Eocene–Oligocene Transition</text>
<line x1="103.7" x2="117" y1="1483" y2="1483" stroke="#16336f" stroke-width="1.8"/>
<text x="95.5" y="1489.0" font-size="34" text-anchor="end" fill="#16336f">2.5</text>
<line x1="103.7" x2="117" y1="1522.8" y2="1522.8" stroke="#16336f" stroke-width="1.8"/>
<text x="95.5" y="1528.8" font-size="34" text-anchor="end" fill="#16336f">2.0</text>
<line x1="103.7" x2="117" y1="1562.7" y2="1562.7" stroke="#16336f" stroke-width="1.8"/>
<text x="95.5" y="1568.7" font-size="34" text-anchor="end" fill="#16336f">1.5</text>
<line x1="103.7" x2="117" y1="1602.4" y2="1602.4" stroke="#16336f" stroke-width="1.8"/>
<text x="95.5" y="1608.4" font-size="34" text-anchor="end" fill="#16336f">1.0</text>
<line x1="103.7" x2="117" y1="1641.7" y2="1641.7" stroke="#16336f" stroke-width="1.8"/>
<text x="95.5" y="1647.7" font-size="34" text-anchor="end" fill="#16336f">0.5</text>
<text transform="translate(36.3,1550) rotate(-90)" font-size="25" text-anchor="middle" fill="#16336f">Precipitation(m/year)</text>
<line x1="900" x2="911.6" y1="1419.2" y2="1419.2" stroke="#dc1f26" stroke-width="1.8"/>
<text x="916" y="1427.7" font-size="34" fill="#dc1f26">12</text>
<line x1="900" x2="911.6" y1="1449.3" y2="1449.3" stroke="#dc1f26" stroke-width="1.8"/>
<text x="916" y="1459.3" font-size="34" fill="#dc1f26">8</text>
<line x1="900" x2="911.6" y1="1479.3" y2="1479.3" stroke="#dc1f26" stroke-width="1.8"/>
<text x="916" y="1489.3" font-size="34" fill="#dc1f26">4</text>
<line x1="900" x2="911.6" y1="1508.8" y2="1508.8" stroke="#dc1f26" stroke-width="1.8"/>
<text x="916" y="1519.3" font-size="34" fill="#dc1f26">0</text>
<line x1="900" x2="911.6" y1="1535.8" y2="1535.8" stroke="#dc1f26" stroke-width="1.8"/>
<text x="916" y="1548.5" font-size="34" fill="#dc1f26">-4</text>
<text transform="translate(987,1466) rotate(-90)" font-size="33.2" text-anchor="middle" fill="#dc1f26">Temperature (°C)</text>
<rect x="117" y="1661" width="143.3" height="37.8" fill="#dcdddd"/>
<rect x="504.7" y="1661" width="124.6" height="37.8" fill="#dcdddd"/>
<rect x="842.6" y="1661" width="28.6" height="37.8" fill="#dcdddd"/>
<g fill="#000">
<rect x="116" y="1660" width="785" height="2"/>
<rect x="116" y="1698.6" width="785" height="2"/>
<rect x="259.3" y="1661" width="2" height="38.2"/>
<rect x="503.7" y="1661" width="2" height="38.2"/>
<rect x="628.3" y="1661" width="2" height="38.2"/>
<rect x="841.6" y="1661" width="2" height="38.2"/>
<rect x="870.2" y="1661" width="2" height="38.2"/>
</g>
<text x="191" y="1691.2" font-size="26" text-anchor="middle" fill="#231815">Paleo.</text>
<text x="383.5" y="1691.2" font-size="26" text-anchor="middle" fill="#231815">Eocene</text>
<text x="567.4" y="1691.2" font-size="26" text-anchor="middle" fill="#231815">Oligo.</text>
<text x="734.7" y="1691.2" font-size="26" text-anchor="middle" fill="#231815">Miocene</text>
<text x="856.3" y="1691.2" font-size="26" text-anchor="middle" fill="#231815">P.</text>
<text x="885.5" y="1691.2" font-size="26" text-anchor="middle" fill="#231815">Q.</text>
<g fill="#000">
<rect x="116" y="17" width="2" height="1683.6"/>
<rect x="899" y="17" width="2" height="1683.6"/>
<rect x="116" y="17" width="785" height="2"/>
<rect x="116" y="664.5" width="785" height="2"/>
<rect x="116" y="710" width="785" height="2"/>
<rect x="116" y="1203" width="785" height="2"/>
<rect x="116" y="1249" width="785" height="2"/>
</g>
</svg></body></html>
